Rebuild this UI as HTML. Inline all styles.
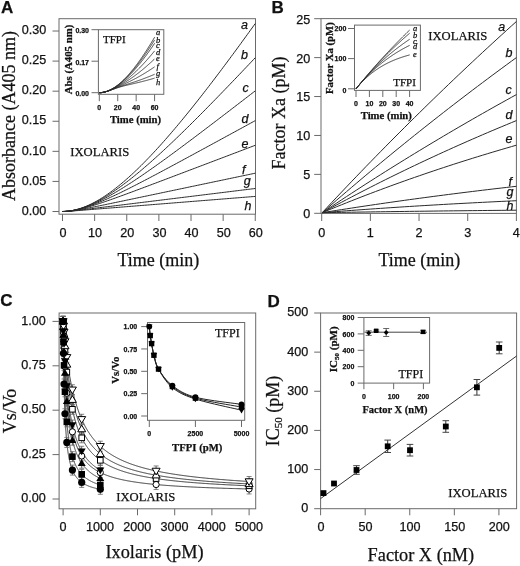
<!DOCTYPE html>
<html><head><meta charset="utf-8"><style>
html,body{margin:0;padding:0;background:#fff;}
svg{display:block;filter:grayscale(1);}
text{stroke:#111;stroke-width:0.25px;}
</style></head><body>
<svg width="520" height="566" viewBox="0 0 520 566" shape-rendering="auto">
<rect width="520" height="566" fill="#fff"/>
<text x="1.00" y="12.70" font-family='"Liberation Sans", sans-serif' font-size="17" text-anchor="start" font-weight="bold" font-style="normal" fill="#111">A</text>
<rect x="59.00" y="18.70" width="196.50" height="195.50" fill="none" stroke="#6a6a6a" stroke-width="1"/>
<line x1="52.50" y1="211.50" x2="59.00" y2="211.50" stroke="#6a6a6a" stroke-width="1"/>
<text x="46.30" y="214.70" font-family='"Liberation Sans", sans-serif' font-size="12.6" text-anchor="end" font-weight="normal" font-style="normal" fill="#111">0.00</text>
<line x1="52.50" y1="181.42" x2="59.00" y2="181.42" stroke="#6a6a6a" stroke-width="1"/>
<text x="46.30" y="184.62" font-family='"Liberation Sans", sans-serif' font-size="12.6" text-anchor="end" font-weight="normal" font-style="normal" fill="#111">0.05</text>
<line x1="52.50" y1="151.34" x2="59.00" y2="151.34" stroke="#6a6a6a" stroke-width="1"/>
<text x="46.30" y="154.54" font-family='"Liberation Sans", sans-serif' font-size="12.6" text-anchor="end" font-weight="normal" font-style="normal" fill="#111">0.10</text>
<line x1="52.50" y1="121.26" x2="59.00" y2="121.26" stroke="#6a6a6a" stroke-width="1"/>
<text x="46.30" y="124.46" font-family='"Liberation Sans", sans-serif' font-size="12.6" text-anchor="end" font-weight="normal" font-style="normal" fill="#111">0.15</text>
<line x1="52.50" y1="91.18" x2="59.00" y2="91.18" stroke="#6a6a6a" stroke-width="1"/>
<text x="46.30" y="94.38" font-family='"Liberation Sans", sans-serif' font-size="12.6" text-anchor="end" font-weight="normal" font-style="normal" fill="#111">0.20</text>
<line x1="52.50" y1="61.10" x2="59.00" y2="61.10" stroke="#6a6a6a" stroke-width="1"/>
<text x="46.30" y="64.30" font-family='"Liberation Sans", sans-serif' font-size="12.6" text-anchor="end" font-weight="normal" font-style="normal" fill="#111">0.25</text>
<line x1="52.50" y1="31.02" x2="59.00" y2="31.02" stroke="#6a6a6a" stroke-width="1"/>
<text x="46.30" y="34.22" font-family='"Liberation Sans", sans-serif' font-size="12.6" text-anchor="end" font-weight="normal" font-style="normal" fill="#111">0.30</text>
<line x1="62.50" y1="214.20" x2="62.50" y2="221.00" stroke="#6a6a6a" stroke-width="1"/>
<text x="63.00" y="236.80" font-family='"Liberation Sans", sans-serif' font-size="12.6" text-anchor="middle" font-weight="normal" font-style="normal" fill="#111">0</text>
<line x1="94.63" y1="214.20" x2="94.63" y2="221.00" stroke="#6a6a6a" stroke-width="1"/>
<text x="95.13" y="236.80" font-family='"Liberation Sans", sans-serif' font-size="12.6" text-anchor="middle" font-weight="normal" font-style="normal" fill="#111">10</text>
<line x1="126.76" y1="214.20" x2="126.76" y2="221.00" stroke="#6a6a6a" stroke-width="1"/>
<text x="127.26" y="236.80" font-family='"Liberation Sans", sans-serif' font-size="12.6" text-anchor="middle" font-weight="normal" font-style="normal" fill="#111">20</text>
<line x1="158.89" y1="214.20" x2="158.89" y2="221.00" stroke="#6a6a6a" stroke-width="1"/>
<text x="159.39" y="236.80" font-family='"Liberation Sans", sans-serif' font-size="12.6" text-anchor="middle" font-weight="normal" font-style="normal" fill="#111">30</text>
<line x1="191.02" y1="214.20" x2="191.02" y2="221.00" stroke="#6a6a6a" stroke-width="1"/>
<text x="191.52" y="236.80" font-family='"Liberation Sans", sans-serif' font-size="12.6" text-anchor="middle" font-weight="normal" font-style="normal" fill="#111">40</text>
<line x1="223.15" y1="214.20" x2="223.15" y2="221.00" stroke="#6a6a6a" stroke-width="1"/>
<text x="223.65" y="236.80" font-family='"Liberation Sans", sans-serif' font-size="12.6" text-anchor="middle" font-weight="normal" font-style="normal" fill="#111">50</text>
<line x1="255.28" y1="214.20" x2="255.28" y2="221.00" stroke="#6a6a6a" stroke-width="1"/>
<text x="255.78" y="236.80" font-family='"Liberation Sans", sans-serif' font-size="12.6" text-anchor="middle" font-weight="normal" font-style="normal" fill="#111">60</text>
<text x="158.30" y="266.00" font-family='"Liberation Serif", serif' font-size="18" text-anchor="middle" font-weight="normal" font-style="normal" fill="#111">Time (min)</text>
<text x="14.80" y="116.00" font-family='"Liberation Serif", serif' font-size="18" text-anchor="middle" font-weight="normal" font-style="normal" fill="#111" transform="rotate(-90 14.80 116.00)">Absorbance (A405 nm)</text>
<text x="70.20" y="156.20" font-family='"Liberation Serif", serif' font-size="12.65" text-anchor="start" font-weight="normal" font-style="normal" fill="#111">IXOLARIS</text>
<polyline points="62.50,211.50 64.11,211.47 65.71,211.39 67.32,211.26 68.93,211.08 70.53,210.86 72.14,210.58 73.75,210.26 75.35,209.89 76.96,209.47 78.56,209.01 80.17,208.51 81.78,207.97 83.38,207.39 84.99,206.76 86.60,206.10 88.20,205.40 89.81,204.66 91.42,203.89 93.02,203.07 94.63,202.23 96.24,201.35 97.84,200.43 99.45,199.49 101.06,198.51 102.66,197.50 104.27,196.46 105.88,195.39 107.48,194.29 109.09,193.16 110.70,192.00 112.30,190.81 113.91,189.60 115.51,188.37 117.12,187.10 118.73,185.81 120.33,184.50 121.94,183.16 123.55,181.80 125.15,180.42 126.76,179.01 128.37,177.59 129.97,176.14 131.58,174.67 133.19,173.17 134.79,171.66 136.40,170.13 138.01,168.58 139.61,167.01 141.22,165.43 142.83,163.82 144.43,162.20 146.04,160.56 147.64,158.90 149.25,157.23 150.86,155.54 152.46,153.83 154.07,152.11 155.68,150.38 157.28,148.62 158.89,146.86 160.50,145.08 162.10,143.29 163.71,141.48 165.32,139.66 166.92,137.83 168.53,135.98 170.14,134.13 171.74,132.26 173.35,130.38 174.96,128.48 176.56,126.58 178.17,124.66 179.77,122.74 181.38,120.80 182.99,118.86 184.59,116.90 186.20,114.93 187.81,112.95 189.41,110.97 191.02,108.97 192.63,106.97 194.23,104.96 195.84,102.94 197.45,100.90 199.05,98.87 200.66,96.82 202.27,94.77 203.87,92.70 205.48,90.63 207.09,88.56 208.69,86.47 210.30,84.38 211.90,82.28 213.51,80.18 215.12,78.07 216.72,75.95 218.33,73.82 219.94,71.69 221.54,69.56 223.15,67.41 224.76,65.26 226.36,63.11 227.97,60.95 229.58,58.79 231.18,56.62 232.79,54.44 234.40,52.26 236.00,50.07 237.61,47.88 239.22,45.69 240.82,43.49 242.43,41.28 244.03,39.07 245.64,36.86 247.25,34.64 248.85,32.42 250.46,30.20 252.07,27.97 253.67,25.73 255.28,23.50" fill="none" stroke="#2a2a2a" stroke-width="1" stroke-linejoin="round"/>
<polyline points="62.50,211.50 64.11,211.47 65.71,211.40 67.32,211.27 68.93,211.09 70.53,210.86 72.14,210.59 73.75,210.28 75.35,209.92 76.96,209.52 78.56,209.08 80.17,208.60 81.78,208.08 83.38,207.53 84.99,206.94 86.60,206.31 88.20,205.65 89.81,204.96 91.42,204.23 93.02,203.48 94.63,202.69 96.24,201.88 97.84,201.04 99.45,200.17 101.06,199.27 102.66,198.35 104.27,197.41 105.88,196.44 107.48,195.44 109.09,194.43 110.70,193.39 112.30,192.33 113.91,191.25 115.51,190.15 117.12,189.03 118.73,187.89 120.33,186.74 121.94,185.56 123.55,184.37 125.15,183.16 126.76,181.94 128.37,180.70 129.97,179.44 131.58,178.17 133.19,176.89 134.79,175.59 136.40,174.28 138.01,172.95 139.61,171.62 141.22,170.27 142.83,168.91 144.43,167.53 146.04,166.15 147.64,164.75 149.25,163.35 150.86,161.93 152.46,160.51 154.07,159.07 155.68,157.63 157.28,156.17 158.89,154.71 160.50,153.24 162.10,151.76 163.71,150.28 165.32,148.78 166.92,147.28 168.53,145.77 170.14,144.25 171.74,142.73 173.35,141.20 174.96,139.66 176.56,138.12 178.17,136.57 179.77,135.02 181.38,133.46 182.99,131.89 184.59,130.32 186.20,128.74 187.81,127.16 189.41,125.57 191.02,123.98 192.63,122.39 194.23,120.79 195.84,119.18 197.45,117.57 199.05,115.96 200.66,114.34 202.27,112.72 203.87,111.10 205.48,109.47 207.09,107.84 208.69,106.21 210.30,104.57 211.90,102.93 213.51,101.28 215.12,99.63 216.72,97.98 218.33,96.33 219.94,94.68 221.54,93.02 223.15,91.36 224.76,89.69 226.36,88.03 227.97,86.36 229.58,84.69 231.18,83.02 232.79,81.34 234.40,79.66 236.00,77.99 237.61,76.30 239.22,74.62 240.82,72.94 242.43,71.25 244.03,69.56 245.64,67.87 247.25,66.18 248.85,64.49 250.46,62.80 252.07,61.10 253.67,59.40 255.28,57.70" fill="none" stroke="#2a2a2a" stroke-width="1" stroke-linejoin="round"/>
<polyline points="62.50,211.50 64.11,211.47 65.71,211.40 67.32,211.27 68.93,211.10 70.53,210.88 72.14,210.62 73.75,210.31 75.35,209.97 76.96,209.59 78.56,209.17 80.17,208.72 81.78,208.23 83.38,207.72 84.99,207.17 86.60,206.59 88.20,205.99 89.81,205.35 91.42,204.70 93.02,204.01 94.63,203.31 96.24,202.58 97.84,201.83 99.45,201.06 101.06,200.26 102.66,199.45 104.27,198.62 105.88,197.78 107.48,196.91 109.09,196.04 110.70,195.14 112.30,194.23 113.91,193.31 115.51,192.37 117.12,191.42 118.73,190.46 120.33,189.48 121.94,188.50 123.55,187.50 125.15,186.49 126.76,185.48 128.37,184.45 129.97,183.41 131.58,182.37 133.19,181.32 134.79,180.25 136.40,179.18 138.01,178.11 139.61,177.02 141.22,175.93 142.83,174.84 144.43,173.73 146.04,172.62 147.64,171.51 149.25,170.39 150.86,169.26 152.46,168.13 154.07,167.00 155.68,165.86 157.28,164.71 158.89,163.56 160.50,162.41 162.10,161.25 163.71,160.09 165.32,158.93 166.92,157.76 168.53,156.59 170.14,155.41 171.74,154.24 173.35,153.06 174.96,151.87 176.56,150.69 178.17,149.50 179.77,148.31 181.38,147.12 182.99,145.92 184.59,144.72 186.20,143.53 187.81,142.32 189.41,141.12 191.02,139.92 192.63,138.71 194.23,137.50 195.84,136.29 197.45,135.08 199.05,133.87 200.66,132.65 202.27,131.44 203.87,130.22 205.48,129.00 207.09,127.78 208.69,126.56 210.30,125.34 211.90,124.12 213.51,122.90 215.12,121.67 216.72,120.45 218.33,119.22 219.94,117.99 221.54,116.76 223.15,115.54 224.76,114.31 226.36,113.08 227.97,111.85 229.58,110.61 231.18,109.38 232.79,108.15 234.40,106.92 236.00,105.68 237.61,104.45 239.22,103.21 240.82,101.98 242.43,100.74 244.03,99.51 245.64,98.27 247.25,97.03 248.85,95.80 250.46,94.56 252.07,93.32 253.67,92.08 255.28,90.85" fill="none" stroke="#2a2a2a" stroke-width="1" stroke-linejoin="round"/>
<polyline points="62.50,211.50 64.11,211.47 65.71,211.40 67.32,211.27 68.93,211.10 70.53,210.89 72.14,210.64 73.75,210.36 75.35,210.04 76.96,209.68 78.56,209.30 80.17,208.88 81.78,208.44 83.38,207.97 84.99,207.48 86.60,206.97 88.20,206.43 89.81,205.87 91.42,205.30 93.02,204.70 94.63,204.09 96.24,203.47 97.84,202.83 99.45,202.17 101.06,201.51 102.66,200.83 104.27,200.13 105.88,199.43 107.48,198.72 109.09,198.00 110.70,197.26 112.30,196.52 113.91,195.78 115.51,195.02 117.12,194.26 118.73,193.49 120.33,192.71 121.94,191.93 123.55,191.14 125.15,190.35 126.76,189.55 128.37,188.75 129.97,187.94 131.58,187.13 133.19,186.31 134.79,185.49 136.40,184.67 138.01,183.84 139.61,183.02 141.22,182.18 142.83,181.35 144.43,180.51 146.04,179.68 147.64,178.83 149.25,177.99 150.86,177.15 152.46,176.30 154.07,175.45 155.68,174.60 157.28,173.75 158.89,172.89 160.50,172.04 162.10,171.18 163.71,170.32 165.32,169.46 166.92,168.60 168.53,167.74 170.14,166.88 171.74,166.02 173.35,165.16 174.96,164.29 176.56,163.43 178.17,162.56 179.77,161.69 181.38,160.83 182.99,159.96 184.59,159.09 186.20,158.22 187.81,157.35 189.41,156.48 191.02,155.61 192.63,154.74 194.23,153.87 195.84,153.00 197.45,152.13 199.05,151.26 200.66,150.38 202.27,149.51 203.87,148.64 205.48,147.77 207.09,146.89 208.69,146.02 210.30,145.15 211.90,144.27 213.51,143.40 215.12,142.52 216.72,141.65 218.33,140.78 219.94,139.90 221.54,139.03 223.15,138.15 224.76,137.28 226.36,136.40 227.97,135.52 229.58,134.65 231.18,133.77 232.79,132.90 234.40,132.02 236.00,131.15 237.61,130.27 239.22,129.40 240.82,128.52 242.43,127.64 244.03,126.77 245.64,125.89 247.25,125.01 248.85,124.14 250.46,123.26 252.07,122.39 253.67,121.51 255.28,120.63" fill="none" stroke="#2a2a2a" stroke-width="1" stroke-linejoin="round"/>
<polyline points="62.50,211.50 64.11,211.47 65.71,211.40 67.32,211.28 68.93,211.12 70.53,210.92 72.14,210.69 73.75,210.42 75.35,210.13 76.96,209.81 78.56,209.46 80.17,209.10 81.78,208.71 83.38,208.30 84.99,207.88 86.60,207.44 88.20,206.99 89.81,206.52 91.42,206.04 93.02,205.55 94.63,205.05 96.24,204.55 97.84,204.03 99.45,203.50 101.06,202.97 102.66,202.43 104.27,201.89 105.88,201.34 107.48,200.78 109.09,200.22 110.70,199.66 112.30,199.09 113.91,198.52 115.51,197.95 117.12,197.37 118.73,196.79 120.33,196.21 121.94,195.62 123.55,195.04 125.15,194.45 126.76,193.86 128.37,193.26 129.97,192.67 131.58,192.08 133.19,191.48 134.79,190.88 136.40,190.28 138.01,189.68 139.61,189.08 141.22,188.48 142.83,187.88 144.43,187.28 146.04,186.68 147.64,186.07 149.25,185.47 150.86,184.86 152.46,184.26 154.07,183.65 155.68,183.05 157.28,182.44 158.89,181.84 160.50,181.23 162.10,180.62 163.71,180.02 165.32,179.41 166.92,178.80 168.53,178.19 170.14,177.59 171.74,176.98 173.35,176.37 174.96,175.76 176.56,175.15 178.17,174.54 179.77,173.94 181.38,173.33 182.99,172.72 184.59,172.11 186.20,171.50 187.81,170.89 189.41,170.28 191.02,169.67 192.63,169.06 194.23,168.46 195.84,167.85 197.45,167.24 199.05,166.63 200.66,166.02 202.27,165.41 203.87,164.80 205.48,164.19 207.09,163.58 208.69,162.97 210.30,162.36 211.90,161.75 213.51,161.14 215.12,160.53 216.72,159.92 218.33,159.32 219.94,158.71 221.54,158.10 223.15,157.49 224.76,156.88 226.36,156.27 227.97,155.66 229.58,155.05 231.18,154.44 232.79,153.83 234.40,153.22 236.00,152.61 237.61,152.00 239.22,151.39 240.82,150.78 242.43,150.17 244.03,149.56 245.64,148.95 247.25,148.34 248.85,147.73 250.46,147.12 252.07,146.51 253.67,145.90 255.28,145.29" fill="none" stroke="#2a2a2a" stroke-width="1" stroke-linejoin="round"/>
<polyline points="62.50,211.50 64.11,211.47 65.71,211.40 67.32,211.29 68.93,211.15 70.53,210.98 72.14,210.78 73.75,210.57 75.35,210.33 76.96,210.08 78.56,209.82 80.17,209.55 81.78,209.26 83.38,208.97 84.99,208.68 86.60,208.37 88.20,208.06 89.81,207.75 91.42,207.44 93.02,207.12 94.63,206.80 96.24,206.47 97.84,206.15 99.45,205.82 101.06,205.49 102.66,205.16 104.27,204.83 105.88,204.50 107.48,204.16 109.09,203.83 110.70,203.50 112.30,203.16 113.91,202.83 115.51,202.49 117.12,202.16 118.73,201.82 120.33,201.49 121.94,201.15 123.55,200.82 125.15,200.48 126.76,200.14 128.37,199.81 129.97,199.47 131.58,199.13 133.19,198.80 134.79,198.46 136.40,198.12 138.01,197.79 139.61,197.45 141.22,197.11 142.83,196.78 144.43,196.44 146.04,196.10 147.64,195.77 149.25,195.43 150.86,195.09 152.46,194.76 154.07,194.42 155.68,194.08 157.28,193.75 158.89,193.41 160.50,193.07 162.10,192.73 163.71,192.40 165.32,192.06 166.92,191.72 168.53,191.39 170.14,191.05 171.74,190.71 173.35,190.38 174.96,190.04 176.56,189.70 178.17,189.37 179.77,189.03 181.38,188.69 182.99,188.36 184.59,188.02 186.20,187.68 187.81,187.34 189.41,187.01 191.02,186.67 192.63,186.33 194.23,186.00 195.84,185.66 197.45,185.32 199.05,184.99 200.66,184.65 202.27,184.31 203.87,183.98 205.48,183.64 207.09,183.30 208.69,182.96 210.30,182.63 211.90,182.29 213.51,181.95 215.12,181.62 216.72,181.28 218.33,180.94 219.94,180.61 221.54,180.27 223.15,179.93 224.76,179.60 226.36,179.26 227.97,178.92 229.58,178.59 231.18,178.25 232.79,177.91 234.40,177.57 236.00,177.24 237.61,176.90 239.22,176.56 240.82,176.23 242.43,175.89 244.03,175.55 245.64,175.22 247.25,174.88 248.85,174.54 250.46,174.21 252.07,173.87 253.67,173.53 255.28,173.19" fill="none" stroke="#2a2a2a" stroke-width="1" stroke-linejoin="round"/>
<polyline points="62.50,211.50 64.11,211.48 65.71,211.41 67.32,211.31 68.93,211.19 70.53,211.05 72.14,210.90 73.75,210.74 75.35,210.56 76.96,210.39 78.56,210.20 80.17,210.02 81.78,209.83 83.38,209.64 84.99,209.45 86.60,209.25 88.20,209.06 89.81,208.86 91.42,208.66 93.02,208.47 94.63,208.27 96.24,208.07 97.84,207.88 99.45,207.68 101.06,207.48 102.66,207.28 104.27,207.09 105.88,206.89 107.48,206.69 109.09,206.49 110.70,206.30 112.30,206.10 113.91,205.90 115.51,205.70 117.12,205.50 118.73,205.31 120.33,205.11 121.94,204.91 123.55,204.71 125.15,204.52 126.76,204.32 128.37,204.12 129.97,203.92 131.58,203.72 133.19,203.53 134.79,203.33 136.40,203.13 138.01,202.93 139.61,202.73 141.22,202.54 142.83,202.34 144.43,202.14 146.04,201.94 147.64,201.75 149.25,201.55 150.86,201.35 152.46,201.15 154.07,200.95 155.68,200.76 157.28,200.56 158.89,200.36 160.50,200.16 162.10,199.96 163.71,199.77 165.32,199.57 166.92,199.37 168.53,199.17 170.14,198.98 171.74,198.78 173.35,198.58 174.96,198.38 176.56,198.18 178.17,197.99 179.77,197.79 181.38,197.59 182.99,197.39 184.59,197.19 186.20,197.00 187.81,196.80 189.41,196.60 191.02,196.40 192.63,196.21 194.23,196.01 195.84,195.81 197.45,195.61 199.05,195.41 200.66,195.22 202.27,195.02 203.87,194.82 205.48,194.62 207.09,194.42 208.69,194.23 210.30,194.03 211.90,193.83 213.51,193.63 215.12,193.44 216.72,193.24 218.33,193.04 219.94,192.84 221.54,192.64 223.15,192.45 224.76,192.25 226.36,192.05 227.97,191.85 229.58,191.65 231.18,191.46 232.79,191.26 234.40,191.06 236.00,190.86 237.61,190.67 239.22,190.47 240.82,190.27 242.43,190.07 244.03,189.87 245.64,189.68 247.25,189.48 248.85,189.28 250.46,189.08 252.07,188.88 253.67,188.69 255.28,188.49" fill="none" stroke="#2a2a2a" stroke-width="1" stroke-linejoin="round"/>
<polyline points="62.50,211.50 64.11,211.48 65.71,211.42 67.32,211.33 68.93,211.24 70.53,211.13 72.14,211.01 73.75,210.89 75.35,210.77 76.96,210.65 78.56,210.52 80.17,210.39 81.78,210.27 83.38,210.14 84.99,210.01 86.60,209.88 88.20,209.75 89.81,209.63 91.42,209.50 93.02,209.37 94.63,209.24 96.24,209.11 97.84,208.98 99.45,208.86 101.06,208.73 102.66,208.60 104.27,208.47 105.88,208.34 107.48,208.21 109.09,208.09 110.70,207.96 112.30,207.83 113.91,207.70 115.51,207.57 117.12,207.44 118.73,207.32 120.33,207.19 121.94,207.06 123.55,206.93 125.15,206.80 126.76,206.67 128.37,206.55 129.97,206.42 131.58,206.29 133.19,206.16 134.79,206.03 136.40,205.90 138.01,205.78 139.61,205.65 141.22,205.52 142.83,205.39 144.43,205.26 146.04,205.13 147.64,205.01 149.25,204.88 150.86,204.75 152.46,204.62 154.07,204.49 155.68,204.36 157.28,204.24 158.89,204.11 160.50,203.98 162.10,203.85 163.71,203.72 165.32,203.59 166.92,203.47 168.53,203.34 170.14,203.21 171.74,203.08 173.35,202.95 174.96,202.82 176.56,202.70 178.17,202.57 179.77,202.44 181.38,202.31 182.99,202.18 184.59,202.05 186.20,201.93 187.81,201.80 189.41,201.67 191.02,201.54 192.63,201.41 194.23,201.28 195.84,201.16 197.45,201.03 199.05,200.90 200.66,200.77 202.27,200.64 203.87,200.51 205.48,200.39 207.09,200.26 208.69,200.13 210.30,200.00 211.90,199.87 213.51,199.74 215.12,199.62 216.72,199.49 218.33,199.36 219.94,199.23 221.54,199.10 223.15,198.97 224.76,198.85 226.36,198.72 227.97,198.59 229.58,198.46 231.18,198.33 232.79,198.20 234.40,198.08 236.00,197.95 237.61,197.82 239.22,197.69 240.82,197.56 242.43,197.43 244.03,197.31 245.64,197.18 247.25,197.05 248.85,196.92 250.46,196.79 252.07,196.66 253.67,196.54 255.28,196.41" fill="none" stroke="#2a2a2a" stroke-width="1" stroke-linejoin="round"/>
<text x="241.00" y="29.10" font-family='"Liberation Sans", sans-serif' font-size="12.5" text-anchor="start" font-weight="normal" font-style="italic" fill="#111">a</text>
<text x="241.00" y="59.10" font-family='"Liberation Sans", sans-serif' font-size="12.5" text-anchor="start" font-weight="normal" font-style="italic" fill="#111">b</text>
<text x="242.50" y="92.30" font-family='"Liberation Sans", sans-serif' font-size="12.5" text-anchor="start" font-weight="normal" font-style="italic" fill="#111">c</text>
<text x="241.50" y="122.60" font-family='"Liberation Sans", sans-serif' font-size="12.5" text-anchor="start" font-weight="normal" font-style="italic" fill="#111">d</text>
<text x="241.50" y="147.90" font-family='"Liberation Sans", sans-serif' font-size="12.5" text-anchor="start" font-weight="normal" font-style="italic" fill="#111">e</text>
<text x="242.00" y="174.10" font-family='"Liberation Sans", sans-serif' font-size="12.5" text-anchor="start" font-weight="normal" font-style="italic" fill="#111">f</text>
<text x="243.80" y="185.20" font-family='"Liberation Sans", sans-serif' font-size="12.5" text-anchor="start" font-weight="normal" font-style="italic" fill="#111">g</text>
<text x="244.50" y="209.60" font-family='"Liberation Sans", sans-serif' font-size="12.5" text-anchor="start" font-weight="normal" font-style="italic" fill="#111">h</text>
<rect x="98.40" y="29.70" width="65.40" height="64.60" fill="none" stroke="#6a6a6a" stroke-width="1"/>
<line x1="91.50" y1="92.70" x2="98.40" y2="92.70" stroke="#6a6a6a" stroke-width="1"/>
<text x="89.00" y="96.30" font-family='"Liberation Sans", sans-serif' font-size="7" text-anchor="end" font-weight="bold" font-style="normal" fill="#111">0.00</text>
<line x1="91.50" y1="61.20" x2="98.40" y2="61.20" stroke="#6a6a6a" stroke-width="1"/>
<text x="89.00" y="64.80" font-family='"Liberation Sans", sans-serif' font-size="7" text-anchor="end" font-weight="bold" font-style="normal" fill="#111">0.17</text>
<line x1="91.50" y1="29.70" x2="98.40" y2="29.70" stroke="#6a6a6a" stroke-width="1"/>
<text x="89.00" y="33.30" font-family='"Liberation Sans", sans-serif' font-size="7" text-anchor="end" font-weight="bold" font-style="normal" fill="#111">0.30</text>
<line x1="99.30" y1="94.30" x2="99.30" y2="101.20" stroke="#6a6a6a" stroke-width="1"/>
<text x="99.30" y="109.90" font-family='"Liberation Sans", sans-serif' font-size="7" text-anchor="middle" font-weight="bold" font-style="normal" fill="#111">0</text>
<line x1="117.73" y1="94.30" x2="117.73" y2="101.20" stroke="#6a6a6a" stroke-width="1"/>
<text x="117.73" y="109.90" font-family='"Liberation Sans", sans-serif' font-size="7" text-anchor="middle" font-weight="bold" font-style="normal" fill="#111">20</text>
<line x1="136.16" y1="94.30" x2="136.16" y2="101.20" stroke="#6a6a6a" stroke-width="1"/>
<text x="136.16" y="109.90" font-family='"Liberation Sans", sans-serif' font-size="7" text-anchor="middle" font-weight="bold" font-style="normal" fill="#111">40</text>
<line x1="154.59" y1="94.30" x2="154.59" y2="101.20" stroke="#6a6a6a" stroke-width="1"/>
<text x="154.59" y="109.90" font-family='"Liberation Sans", sans-serif' font-size="7" text-anchor="middle" font-weight="bold" font-style="normal" fill="#111">60</text>
<text x="135.50" y="123.20" font-family='"Liberation Serif", serif' font-size="10.7" text-anchor="middle" font-weight="bold" font-style="normal" fill="#111">Time (min)</text>
<text x="72.20" y="59.50" font-family='"Liberation Serif", serif' font-size="10.8" text-anchor="middle" font-weight="bold" font-style="normal" fill="#111" transform="rotate(-90 72.20 59.50)">Abs (A405 nm)</text>
<text x="103.00" y="42.70" font-family='"Liberation Serif", serif' font-size="11" text-anchor="start" font-weight="normal" font-style="normal" fill="#111">TFPI</text>
<polyline points="99.30,92.70 99.76,92.69 100.22,92.68 100.68,92.65 101.14,92.62 101.60,92.57 102.06,92.51 102.53,92.44 102.99,92.37 103.45,92.28 103.91,92.18 104.37,92.07 104.83,91.96 105.29,91.83 105.75,91.69 106.21,91.55 106.67,91.39 107.13,91.23 107.59,91.05 108.05,90.87 108.52,90.68 108.98,90.48 109.44,90.27 109.90,90.05 110.36,89.82 110.82,89.59 111.28,89.34 111.74,89.09 112.20,88.83 112.66,88.56 113.12,88.28 113.58,88.00 114.04,87.70 114.50,87.40 114.97,87.09 115.43,86.78 115.89,86.45 116.35,86.12 116.81,85.78 117.27,85.43 117.73,85.07 118.19,84.71 118.65,84.34 119.11,83.96 119.57,83.57 120.03,83.18 120.49,82.78 120.96,82.37 121.42,81.96 121.88,81.54 122.34,81.11 122.80,80.67 123.26,80.23 123.72,79.79 124.18,79.33 124.64,78.87 125.10,78.40 125.56,77.93 126.02,77.45 126.48,76.96 126.94,76.47 127.41,75.97 127.87,75.46 128.33,74.95 128.79,74.43 129.25,73.91 129.71,73.38 130.17,72.84 130.63,72.30 131.09,71.75 131.55,71.20 132.01,70.64 132.47,70.08 132.93,69.51 133.40,68.93 133.86,68.35 134.32,67.76 134.78,67.17 135.24,66.57 135.70,65.97 136.16,65.36 136.62,64.75 137.08,64.13 137.54,63.51 138.00,62.88 138.46,62.25 138.92,61.61 139.39,60.97 139.85,60.32 140.31,59.67 140.77,59.01 141.23,58.35 141.69,57.68 142.15,57.01 142.61,56.33 143.07,55.65 143.53,54.96 143.99,54.28 144.45,53.58 144.91,52.88 145.38,52.18 145.84,51.47 146.30,50.76 146.76,50.04 147.22,49.32 147.68,48.60 148.14,47.87 148.60,47.14 149.06,46.40 149.52,45.66 149.98,44.92 150.44,44.17 150.90,43.42 151.36,42.66 151.83,41.90 152.29,41.14 152.75,40.37 153.21,39.60 153.67,38.82 154.13,38.04 154.59,37.26" fill="none" stroke="#2a2a2a" stroke-width="0.9" stroke-linejoin="round"/>
<polyline points="99.30,92.70 99.76,92.69 100.22,92.68 100.68,92.65 101.14,92.62 101.60,92.57 102.06,92.51 102.53,92.44 102.99,92.37 103.45,92.28 103.91,92.18 104.37,92.07 104.83,91.96 105.29,91.83 105.75,91.70 106.21,91.55 106.67,91.40 107.13,91.24 107.59,91.06 108.05,90.88 108.52,90.70 108.98,90.50 109.44,90.29 109.90,90.08 110.36,89.85 110.82,89.62 111.28,89.39 111.74,89.14 112.20,88.88 112.66,88.62 113.12,88.35 113.58,88.07 114.04,87.79 114.50,87.50 114.97,87.20 115.43,86.89 115.89,86.57 116.35,86.25 116.81,85.92 117.27,85.59 117.73,85.25 118.19,84.90 118.65,84.54 119.11,84.18 119.57,83.81 120.03,83.43 120.49,83.05 120.96,82.66 121.42,82.27 121.88,81.87 122.34,81.46 122.80,81.04 123.26,80.62 123.72,80.20 124.18,79.77 124.64,79.33 125.10,78.88 125.56,78.43 126.02,77.98 126.48,77.51 126.94,77.05 127.41,76.57 127.87,76.09 128.33,75.61 128.79,75.12 129.25,74.62 129.71,74.12 130.17,73.61 130.63,73.10 131.09,72.58 131.55,72.06 132.01,71.53 132.47,71.00 132.93,70.46 133.40,69.91 133.86,69.36 134.32,68.81 134.78,68.25 135.24,67.69 135.70,67.12 136.16,66.54 136.62,65.96 137.08,65.38 137.54,64.79 138.00,64.20 138.46,63.60 138.92,62.99 139.39,62.39 139.85,61.77 140.31,61.16 140.77,60.54 141.23,59.91 141.69,59.28 142.15,58.65 142.61,58.01 143.07,57.36 143.53,56.72 143.99,56.06 144.45,55.41 144.91,54.75 145.38,54.08 145.84,53.42 146.30,52.74 146.76,52.07 147.22,51.39 147.68,50.70 148.14,50.01 148.60,49.32 149.06,48.63 149.52,47.93 149.98,47.22 150.44,46.52 150.90,45.81 151.36,45.09 151.83,44.37 152.29,43.65 152.75,42.93 153.21,42.20 153.67,41.47 154.13,40.73 154.59,39.99" fill="none" stroke="#2a2a2a" stroke-width="0.9" stroke-linejoin="round"/>
<polyline points="99.30,92.70 99.76,92.69 100.22,92.68 100.68,92.65 101.14,92.62 101.60,92.57 102.06,92.51 102.53,92.44 102.99,92.37 103.45,92.28 103.91,92.18 104.37,92.08 104.83,91.96 105.29,91.84 105.75,91.70 106.21,91.56 106.67,91.41 107.13,91.25 107.59,91.08 108.05,90.90 108.52,90.71 108.98,90.52 109.44,90.32 109.90,90.11 110.36,89.89 110.82,89.67 111.28,89.44 111.74,89.20 112.20,88.95 112.66,88.69 113.12,88.43 113.58,88.17 114.04,87.89 114.50,87.61 114.97,87.32 115.43,87.03 115.89,86.73 116.35,86.42 116.81,86.11 117.27,85.79 117.73,85.46 118.19,85.13 118.65,84.79 119.11,84.45 119.57,84.10 120.03,83.75 120.49,83.39 120.96,83.02 121.42,82.65 121.88,82.27 122.34,81.89 122.80,81.50 123.26,81.11 123.72,80.71 124.18,80.30 124.64,79.89 125.10,79.48 125.56,79.05 126.02,78.63 126.48,78.20 126.94,77.76 127.41,77.32 127.87,76.87 128.33,76.42 128.79,75.96 129.25,75.50 129.71,75.03 130.17,74.56 130.63,74.09 131.09,73.60 131.55,73.12 132.01,72.63 132.47,72.13 132.93,71.63 133.40,71.12 133.86,70.61 134.32,70.10 134.78,69.58 135.24,69.05 135.70,68.53 136.16,67.99 136.62,67.45 137.08,66.91 137.54,66.37 138.00,65.81 138.46,65.26 138.92,64.70 139.39,64.13 139.85,63.57 140.31,62.99 140.77,62.42 141.23,61.84 141.69,61.25 142.15,60.66 142.61,60.07 143.07,59.47 143.53,58.87 143.99,58.27 144.45,57.66 144.91,57.05 145.38,56.43 145.84,55.81 146.30,55.19 146.76,54.56 147.22,53.93 147.68,53.29 148.14,52.65 148.60,52.01 149.06,51.37 149.52,50.72 149.98,50.06 150.44,49.41 150.90,48.75 151.36,48.08 151.83,47.42 152.29,46.75 152.75,46.07 153.21,45.40 153.67,44.72 154.13,44.04 154.59,43.35" fill="none" stroke="#2a2a2a" stroke-width="0.9" stroke-linejoin="round"/>
<polyline points="99.30,92.70 99.76,92.69 100.22,92.68 100.68,92.65 101.14,92.62 101.60,92.57 102.06,92.51 102.53,92.44 102.99,92.37 103.45,92.28 103.91,92.19 104.37,92.08 104.83,91.97 105.29,91.84 105.75,91.71 106.21,91.57 106.67,91.43 107.13,91.27 107.59,91.11 108.05,90.94 108.52,90.76 108.98,90.57 109.44,90.38 109.90,90.18 110.36,89.98 110.82,89.76 111.28,89.55 111.74,89.32 112.20,89.09 112.66,88.86 113.12,88.62 113.58,88.37 114.04,88.12 114.50,87.87 114.97,87.61 115.43,87.34 115.89,87.07 116.35,86.80 116.81,86.52 117.27,86.24 117.73,85.95 118.19,85.66 118.65,85.36 119.11,85.06 119.57,84.76 120.03,84.45 120.49,84.14 120.96,83.83 121.42,83.51 121.88,83.18 122.34,82.85 122.80,82.52 123.26,82.19 123.72,81.85 124.18,81.51 124.64,81.16 125.10,80.81 125.56,80.45 126.02,80.10 126.48,79.73 126.94,79.37 127.41,79.00 127.87,78.63 128.33,78.25 128.79,77.87 129.25,77.48 129.71,77.09 130.17,76.70 130.63,76.30 131.09,75.90 131.55,75.50 132.01,75.09 132.47,74.68 132.93,74.27 133.40,73.85 133.86,73.42 134.32,73.00 134.78,72.57 135.24,72.13 135.70,71.70 136.16,71.26 136.62,70.81 137.08,70.36 137.54,69.91 138.00,69.46 138.46,69.00 138.92,68.53 139.39,68.07 139.85,67.60 140.31,67.13 140.77,66.65 141.23,66.17 141.69,65.69 142.15,65.20 142.61,64.71 143.07,64.22 143.53,63.72 143.99,63.22 144.45,62.72 144.91,62.22 145.38,61.71 145.84,61.19 146.30,60.68 146.76,60.16 147.22,59.64 147.68,59.12 148.14,58.59 148.60,58.06 149.06,57.53 149.52,56.99 149.98,56.45 150.44,55.91 150.90,55.36 151.36,54.82 151.83,54.27 152.29,53.71 152.75,53.16 153.21,52.60 153.67,52.04 154.13,51.48 154.59,50.91" fill="none" stroke="#2a2a2a" stroke-width="0.9" stroke-linejoin="round"/>
<polyline points="99.30,92.70 99.76,92.69 100.22,92.68 100.68,92.65 101.14,92.62 101.60,92.57 102.06,92.51 102.53,92.44 102.99,92.37 103.45,92.28 103.91,92.19 104.37,92.08 104.83,91.97 105.29,91.85 105.75,91.72 106.21,91.59 106.67,91.44 107.13,91.29 107.59,91.14 108.05,90.97 108.52,90.80 108.98,90.63 109.44,90.44 109.90,90.26 110.36,90.06 110.82,89.87 111.28,89.67 111.74,89.46 112.20,89.25 112.66,89.03 113.12,88.82 113.58,88.59 114.04,88.37 114.50,88.14 114.97,87.91 115.43,87.68 115.89,87.44 116.35,87.20 116.81,86.96 117.27,86.71 117.73,86.47 118.19,86.22 118.65,85.97 119.11,85.71 119.57,85.46 120.03,85.20 120.49,84.94 120.96,84.68 121.42,84.41 121.88,84.14 122.34,83.88 122.80,83.60 123.26,83.33 123.72,83.06 124.18,82.78 124.64,82.50 125.10,82.22 125.56,81.93 126.02,81.65 126.48,81.36 126.94,81.07 127.41,80.77 127.87,80.48 128.33,80.18 128.79,79.88 129.25,79.57 129.71,79.27 130.17,78.96 130.63,78.65 131.09,78.33 131.55,78.01 132.01,77.70 132.47,77.37 132.93,77.05 133.40,76.72 133.86,76.39 134.32,76.06 134.78,75.72 135.24,75.38 135.70,75.04 136.16,74.70 136.62,74.35 137.08,74.01 137.54,73.65 138.00,73.30 138.46,72.94 138.92,72.58 139.39,72.22 139.85,71.86 140.31,71.49 140.77,71.12 141.23,70.74 141.69,70.37 142.15,69.99 142.61,69.61 143.07,69.23 143.53,68.84 143.99,68.45 144.45,68.06 144.91,67.67 145.38,67.28 145.84,66.88 146.30,66.48 146.76,66.08 147.22,65.67 147.68,65.26 148.14,64.85 148.60,64.44 149.06,64.03 149.52,63.61 149.98,63.19 150.44,62.77 150.90,62.35 151.36,61.93 151.83,61.50 152.29,61.07 152.75,60.64 153.21,60.20 153.67,59.77 154.13,59.33 154.59,58.89" fill="none" stroke="#2a2a2a" stroke-width="0.9" stroke-linejoin="round"/>
<polyline points="99.30,92.70 99.76,92.69 100.22,92.68 100.68,92.65 101.14,92.62 101.60,92.57 102.06,92.51 102.53,92.45 102.99,92.37 103.45,92.29 103.91,92.19 104.37,92.09 104.83,91.98 105.29,91.86 105.75,91.74 106.21,91.60 106.67,91.46 107.13,91.32 107.59,91.17 108.05,91.01 108.52,90.85 108.98,90.68 109.44,90.51 109.90,90.33 110.36,90.15 110.82,89.97 111.28,89.78 111.74,89.59 112.20,89.40 112.66,89.21 113.12,89.01 113.58,88.81 114.04,88.61 114.50,88.41 114.97,88.21 115.43,88.01 115.89,87.80 116.35,87.60 116.81,87.39 117.27,87.19 117.73,86.98 118.19,86.77 118.65,86.57 119.11,86.36 119.57,86.15 120.03,85.94 120.49,85.73 120.96,85.52 121.42,85.32 121.88,85.11 122.34,84.90 122.80,84.69 123.26,84.47 123.72,84.26 124.18,84.05 124.64,83.84 125.10,83.62 125.56,83.41 126.02,83.20 126.48,82.98 126.94,82.76 127.41,82.55 127.87,82.33 128.33,82.11 128.79,81.89 129.25,81.66 129.71,81.44 130.17,81.21 130.63,80.99 131.09,80.76 131.55,80.53 132.01,80.30 132.47,80.07 132.93,79.83 133.40,79.60 133.86,79.36 134.32,79.12 134.78,78.88 135.24,78.64 135.70,78.39 136.16,78.15 136.62,77.90 137.08,77.65 137.54,77.40 138.00,77.14 138.46,76.89 138.92,76.63 139.39,76.37 139.85,76.11 140.31,75.85 140.77,75.58 141.23,75.32 141.69,75.05 142.15,74.78 142.61,74.51 143.07,74.24 143.53,73.96 143.99,73.69 144.45,73.41 144.91,73.13 145.38,72.85 145.84,72.56 146.30,72.28 146.76,71.99 147.22,71.70 147.68,71.41 148.14,71.12 148.60,70.83 149.06,70.53 149.52,70.23 149.98,69.94 150.44,69.64 150.90,69.34 151.36,69.03 151.83,68.73 152.29,68.42 152.75,68.11 153.21,67.81 153.67,67.50 154.13,67.18 154.59,66.87" fill="none" stroke="#2a2a2a" stroke-width="0.9" stroke-linejoin="round"/>
<polyline points="99.30,92.70 99.76,92.69 100.22,92.68 100.68,92.65 101.14,92.62 101.60,92.57 102.06,92.51 102.53,92.45 102.99,92.37 103.45,92.29 103.91,92.19 104.37,92.09 104.83,91.99 105.29,91.87 105.75,91.75 106.21,91.62 106.67,91.48 107.13,91.34 107.59,91.19 108.05,91.04 108.52,90.89 108.98,90.73 109.44,90.57 109.90,90.40 110.36,90.24 110.82,90.07 111.28,89.89 111.74,89.72 112.20,89.55 112.66,89.37 113.12,89.19 113.58,89.02 114.04,88.84 114.50,88.67 114.97,88.49 115.43,88.32 115.89,88.14 116.35,87.97 116.81,87.80 117.27,87.63 117.73,87.46 118.19,87.29 118.65,87.13 119.11,86.96 119.57,86.80 120.03,86.64 120.49,86.48 120.96,86.32 121.42,86.16 121.88,86.00 122.34,85.85 122.80,85.69 123.26,85.54 123.72,85.39 124.18,85.24 124.64,85.09 125.10,84.94 125.56,84.79 126.02,84.64 126.48,84.49 126.94,84.34 127.41,84.20 127.87,84.05 128.33,83.90 128.79,83.76 129.25,83.61 129.71,83.46 130.17,83.32 130.63,83.17 131.09,83.02 131.55,82.87 132.01,82.72 132.47,82.57 132.93,82.42 133.40,82.27 133.86,82.12 134.32,81.97 134.78,81.82 135.24,81.66 135.70,81.51 136.16,81.35 136.62,81.20 137.08,81.04 137.54,80.88 138.00,80.72 138.46,80.56 138.92,80.40 139.39,80.24 139.85,80.08 140.31,79.91 140.77,79.75 141.23,79.58 141.69,79.41 142.15,79.24 142.61,79.07 143.07,78.90 143.53,78.73 143.99,78.56 144.45,78.39 144.91,78.21 145.38,78.03 145.84,77.86 146.30,77.68 146.76,77.50 147.22,77.32 147.68,77.14 148.14,76.96 148.60,76.77 149.06,76.59 149.52,76.40 149.98,76.22 150.44,76.03 150.90,75.84 151.36,75.65 151.83,75.46 152.29,75.27 152.75,75.08 153.21,74.89 153.67,74.69 154.13,74.50 154.59,74.30" fill="none" stroke="#2a2a2a" stroke-width="0.9" stroke-linejoin="round"/>
<polyline points="99.30,92.70 99.76,92.69 100.22,92.68 100.68,92.65 101.14,92.62 101.60,92.57 102.06,92.51 102.53,92.45 102.99,92.37 103.45,92.29 103.91,92.20 104.37,92.10 104.83,91.99 105.29,91.87 105.75,91.75 106.21,91.62 106.67,91.49 107.13,91.35 107.59,91.21 108.05,91.06 108.52,90.91 108.98,90.76 109.44,90.60 109.90,90.44 110.36,90.28 110.82,90.11 111.28,89.95 111.74,89.79 112.20,89.62 112.66,89.45 113.12,89.29 113.58,89.12 114.04,88.96 114.50,88.80 114.97,88.64 115.43,88.48 115.89,88.32 116.35,88.16 116.81,88.01 117.27,87.86 117.73,87.71 118.19,87.56 118.65,87.42 119.11,87.27 119.57,87.13 120.03,86.99 120.49,86.86 120.96,86.73 121.42,86.59 121.88,86.46 122.34,86.34 122.80,86.21 123.26,86.09 123.72,85.97 124.18,85.85 124.64,85.73 125.10,85.61 125.56,85.50 126.02,85.39 126.48,85.27 126.94,85.16 127.41,85.05 127.87,84.94 128.33,84.83 128.79,84.72 129.25,84.62 129.71,84.51 130.17,84.40 130.63,84.30 131.09,84.19 131.55,84.08 132.01,83.98 132.47,83.87 132.93,83.76 133.40,83.66 133.86,83.55 134.32,83.44 134.78,83.34 135.24,83.23 135.70,83.12 136.16,83.01 136.62,82.90 137.08,82.79 137.54,82.68 138.00,82.57 138.46,82.46 138.92,82.35 139.39,82.24 139.85,82.13 140.31,82.01 140.77,81.90 141.23,81.78 141.69,81.67 142.15,81.55 142.61,81.43 143.07,81.32 143.53,81.20 143.99,81.08 144.45,80.96 144.91,80.84 145.38,80.72 145.84,80.59 146.30,80.47 146.76,80.35 147.22,80.22 147.68,80.10 148.14,79.97 148.60,79.85 149.06,79.72 149.52,79.59 149.98,79.47 150.44,79.34 150.90,79.21 151.36,79.08 151.83,78.95 152.29,78.81 152.75,78.68 153.21,78.55 153.67,78.42 154.13,78.28 154.59,78.15" fill="none" stroke="#2a2a2a" stroke-width="0.9" stroke-linejoin="round"/>
<text x="156.00" y="35.10" font-family='"Liberation Serif", serif' font-size="8.5" text-anchor="start" font-weight="normal" font-style="italic" fill="#111">a</text>
<text x="156.00" y="42.60" font-family='"Liberation Serif", serif' font-size="8.5" text-anchor="start" font-weight="normal" font-style="italic" fill="#111">b</text>
<text x="156.00" y="47.60" font-family='"Liberation Serif", serif' font-size="8.5" text-anchor="start" font-weight="normal" font-style="italic" fill="#111">c</text>
<text x="156.00" y="54.60" font-family='"Liberation Serif", serif' font-size="8.5" text-anchor="start" font-weight="normal" font-style="italic" fill="#111">d</text>
<text x="156.00" y="61.30" font-family='"Liberation Serif", serif' font-size="8.5" text-anchor="start" font-weight="normal" font-style="italic" fill="#111">e</text>
<text x="156.50" y="68.50" font-family='"Liberation Serif", serif' font-size="8.5" text-anchor="start" font-weight="normal" font-style="italic" fill="#111">f</text>
<text x="156.00" y="75.50" font-family='"Liberation Serif", serif' font-size="8.5" text-anchor="start" font-weight="normal" font-style="italic" fill="#111">g</text>
<text x="156.00" y="85.30" font-family='"Liberation Serif", serif' font-size="8.5" text-anchor="start" font-weight="normal" font-style="italic" fill="#111">h</text>
<text x="271.50" y="12.70" font-family='"Liberation Sans", sans-serif' font-size="17" text-anchor="start" font-weight="bold" font-style="normal" fill="#111">B</text>
<rect x="321.00" y="18.60" width="195.40" height="194.80" fill="none" stroke="#6a6a6a" stroke-width="1"/>
<line x1="314.20" y1="213.30" x2="321.00" y2="213.30" stroke="#6a6a6a" stroke-width="1"/>
<text x="310.30" y="218.20" font-family='"Liberation Sans", sans-serif' font-size="12.6" text-anchor="end" font-weight="normal" font-style="normal" fill="#111">0</text>
<line x1="314.20" y1="174.38" x2="321.00" y2="174.38" stroke="#6a6a6a" stroke-width="1"/>
<text x="310.30" y="179.28" font-family='"Liberation Sans", sans-serif' font-size="12.6" text-anchor="end" font-weight="normal" font-style="normal" fill="#111">5</text>
<line x1="314.20" y1="135.46" x2="321.00" y2="135.46" stroke="#6a6a6a" stroke-width="1"/>
<text x="310.30" y="140.36" font-family='"Liberation Sans", sans-serif' font-size="12.6" text-anchor="end" font-weight="normal" font-style="normal" fill="#111">10</text>
<line x1="314.20" y1="96.54" x2="321.00" y2="96.54" stroke="#6a6a6a" stroke-width="1"/>
<text x="310.30" y="101.44" font-family='"Liberation Sans", sans-serif' font-size="12.6" text-anchor="end" font-weight="normal" font-style="normal" fill="#111">15</text>
<line x1="314.20" y1="57.62" x2="321.00" y2="57.62" stroke="#6a6a6a" stroke-width="1"/>
<text x="310.30" y="62.52" font-family='"Liberation Sans", sans-serif' font-size="12.6" text-anchor="end" font-weight="normal" font-style="normal" fill="#111">20</text>
<line x1="314.20" y1="18.70" x2="321.00" y2="18.70" stroke="#6a6a6a" stroke-width="1"/>
<text x="310.30" y="23.60" font-family='"Liberation Sans", sans-serif' font-size="12.6" text-anchor="end" font-weight="normal" font-style="normal" fill="#111">25</text>
<line x1="321.70" y1="213.40" x2="321.70" y2="221.00" stroke="#6a6a6a" stroke-width="1"/>
<text x="321.70" y="236.60" font-family='"Liberation Sans", sans-serif' font-size="12.6" text-anchor="middle" font-weight="normal" font-style="normal" fill="#111">0</text>
<line x1="370.37" y1="213.40" x2="370.37" y2="221.00" stroke="#6a6a6a" stroke-width="1"/>
<text x="370.37" y="236.60" font-family='"Liberation Sans", sans-serif' font-size="12.6" text-anchor="middle" font-weight="normal" font-style="normal" fill="#111">1</text>
<line x1="419.04" y1="213.40" x2="419.04" y2="221.00" stroke="#6a6a6a" stroke-width="1"/>
<text x="419.04" y="236.60" font-family='"Liberation Sans", sans-serif' font-size="12.6" text-anchor="middle" font-weight="normal" font-style="normal" fill="#111">2</text>
<line x1="467.71" y1="213.40" x2="467.71" y2="221.00" stroke="#6a6a6a" stroke-width="1"/>
<text x="467.71" y="236.60" font-family='"Liberation Sans", sans-serif' font-size="12.6" text-anchor="middle" font-weight="normal" font-style="normal" fill="#111">3</text>
<line x1="516.38" y1="213.40" x2="516.38" y2="221.00" stroke="#6a6a6a" stroke-width="1"/>
<text x="516.38" y="236.60" font-family='"Liberation Sans", sans-serif' font-size="12.6" text-anchor="middle" font-weight="normal" font-style="normal" fill="#111">4</text>
<text x="419.40" y="266.00" font-family='"Liberation Serif", serif' font-size="18" text-anchor="middle" font-weight="normal" font-style="normal" fill="#111">Time (min)</text>
<text x="284.80" y="113.00" font-family='"Liberation Serif", serif' font-size="18" text-anchor="middle" font-weight="normal" font-style="normal" fill="#111" transform="rotate(-90 284.80 113.00)">Factor Xa (pM)</text>
<text x="428.20" y="39.50" font-family='"Liberation Serif", serif' font-size="12.65" text-anchor="start" font-weight="normal" font-style="normal" fill="#111">IXOLARIS</text>
<polyline points="322.20,212.70 327.06,207.49 331.91,202.31 336.76,197.15 341.62,192.02 346.47,186.90 351.33,181.81 356.19,176.74 361.04,171.70 365.89,166.67 370.75,161.67 375.60,156.69 380.46,151.74 385.31,146.80 390.17,141.89 395.02,137.00 399.88,132.13 404.74,127.28 409.59,122.45 414.44,117.64 419.30,112.86 424.15,108.10 429.01,103.35 433.87,98.63 438.72,93.93 443.57,89.25 448.43,84.60 453.28,79.96 458.14,75.34 463.00,70.74 467.85,66.17 472.70,61.61 477.56,57.07 482.41,52.56 487.27,48.06 492.12,43.59 496.98,39.13 501.83,34.69 506.69,30.28 511.54,25.88 516.40,21.50" fill="none" stroke="#2a2a2a" stroke-width="1" stroke-linejoin="round"/>
<polyline points="322.20,212.70 327.06,208.46 331.91,204.24 336.76,200.04 341.62,195.86 346.47,191.70 351.33,187.56 356.19,183.44 361.04,179.33 365.89,175.25 370.75,171.19 375.60,167.14 380.46,163.11 385.31,159.10 390.17,155.11 395.02,151.14 399.88,147.19 404.74,143.25 409.59,139.33 414.44,135.43 419.30,131.55 424.15,127.69 429.01,123.85 433.87,120.02 438.72,116.21 443.57,112.42 448.43,108.64 453.28,104.89 458.14,101.15 463.00,97.42 467.85,93.72 472.70,90.03 477.56,86.36 482.41,82.71 487.27,79.07 492.12,75.45 496.98,71.85 501.83,68.26 506.69,64.69 511.54,61.14 516.40,57.60" fill="none" stroke="#2a2a2a" stroke-width="1" stroke-linejoin="round"/>
<polyline points="322.20,212.70 327.06,209.45 331.91,206.21 336.76,202.99 341.62,199.79 346.47,196.60 351.33,193.43 356.19,190.28 361.04,187.14 365.89,184.01 370.75,180.91 375.60,177.81 380.46,174.74 385.31,171.68 390.17,168.63 395.02,165.60 399.88,162.59 404.74,159.59 409.59,156.60 414.44,153.63 419.30,150.68 424.15,147.74 429.01,144.81 433.87,141.90 438.72,139.00 443.57,136.12 448.43,133.26 453.28,130.40 458.14,127.56 463.00,124.74 467.85,121.93 472.70,119.14 477.56,116.35 482.41,113.59 487.27,110.83 492.12,108.09 496.98,105.37 501.83,102.66 506.69,99.96 511.54,97.27 516.40,94.60" fill="none" stroke="#2a2a2a" stroke-width="1" stroke-linejoin="round"/>
<polyline points="322.20,212.70 327.06,210.06 331.91,207.43 336.76,204.82 341.62,202.24 346.47,199.67 351.33,197.12 356.19,194.58 361.04,192.07 365.89,189.58 370.75,187.10 375.60,184.64 380.46,182.20 385.31,179.78 390.17,177.37 395.02,174.98 399.88,172.61 404.74,170.26 409.59,167.92 414.44,165.60 419.30,163.30 424.15,161.01 429.01,158.74 433.87,156.49 438.72,154.25 443.57,152.03 448.43,149.83 453.28,147.64 458.14,145.47 463.00,143.31 467.85,141.17 472.70,139.05 477.56,136.94 482.41,134.84 487.27,132.76 492.12,130.70 496.98,128.65 501.83,126.61 506.69,124.60 511.54,122.59 516.40,120.60" fill="none" stroke="#2a2a2a" stroke-width="1" stroke-linejoin="round"/>
<polyline points="322.20,212.70 327.06,210.68 331.91,208.68 336.76,206.70 341.62,204.74 346.47,202.80 351.33,200.88 356.19,198.97 361.04,197.08 365.89,195.21 370.75,193.36 375.60,191.52 380.46,189.71 385.31,187.91 390.17,186.12 395.02,184.35 399.88,182.60 404.74,180.87 409.59,179.15 414.44,177.45 419.30,175.77 424.15,174.10 429.01,172.44 433.87,170.80 438.72,169.18 443.57,167.57 448.43,165.98 453.28,164.40 458.14,162.84 463.00,161.29 467.85,159.76 472.70,158.24 477.56,156.74 482.41,155.25 487.27,153.77 492.12,152.31 496.98,150.86 501.83,149.42 506.69,148.00 511.54,146.59 516.40,145.20" fill="none" stroke="#2a2a2a" stroke-width="1" stroke-linejoin="round"/>
<polyline points="322.20,212.70 327.06,211.92 331.91,211.14 336.76,210.37 341.62,209.61 346.47,208.86 351.33,208.11 356.19,207.37 361.04,206.63 365.89,205.91 370.75,205.19 375.60,204.47 380.46,203.76 385.31,203.06 390.17,202.36 395.02,201.67 399.88,200.99 404.74,200.31 409.59,199.64 414.44,198.98 419.30,198.32 424.15,197.66 429.01,197.02 433.87,196.37 438.72,195.74 443.57,195.11 448.43,194.48 453.28,193.86 458.14,193.25 463.00,192.64 467.85,192.04 472.70,191.44 477.56,190.85 482.41,190.26 487.27,189.68 492.12,189.10 496.98,188.53 501.83,187.97 506.69,187.41 511.54,186.85 516.40,186.30" fill="none" stroke="#2a2a2a" stroke-width="1" stroke-linejoin="round"/>
<polyline points="322.20,212.70 327.06,212.31 331.91,211.93 336.76,211.55 341.62,211.18 346.47,210.81 351.33,210.45 356.19,210.09 361.04,209.74 365.89,209.39 370.75,209.05 375.60,208.71 380.46,208.38 385.31,208.05 390.17,207.73 395.02,207.41 399.88,207.09 404.74,206.78 409.59,206.47 414.44,206.17 419.30,205.87 424.15,205.58 429.01,205.29 433.87,205.00 438.72,204.72 443.57,204.44 448.43,204.17 453.28,203.90 458.14,203.63 463.00,203.37 467.85,203.11 472.70,202.85 477.56,202.60 482.41,202.35 487.27,202.10 492.12,201.86 496.98,201.62 501.83,201.39 506.69,201.16 511.54,200.93 516.40,200.70" fill="none" stroke="#2a2a2a" stroke-width="1" stroke-linejoin="round"/>
<polyline points="322.20,212.70 327.06,212.62 331.91,212.53 336.76,212.45 341.62,212.37 346.47,212.29 351.33,212.21 356.19,212.14 361.04,212.06 365.89,211.99 370.75,211.92 375.60,211.84 380.46,211.77 385.31,211.70 390.17,211.64 395.02,211.57 399.88,211.50 404.74,211.44 409.59,211.37 414.44,211.31 419.30,211.25 424.15,211.19 429.01,211.13 433.87,211.07 438.72,211.01 443.57,210.95 448.43,210.90 453.28,210.84 458.14,210.79 463.00,210.74 467.85,210.68 472.70,210.63 477.56,210.58 482.41,210.53 487.27,210.48 492.12,210.43 496.98,210.38 501.83,210.34 506.69,210.29 511.54,210.24 516.40,210.20" fill="none" stroke="#2a2a2a" stroke-width="1" stroke-linejoin="round"/>
<text x="498.30" y="30.70" font-family='"Liberation Sans", sans-serif' font-size="12.5" text-anchor="start" font-weight="normal" font-style="italic" fill="#111">a</text>
<text x="505.50" y="56.70" font-family='"Liberation Sans", sans-serif' font-size="12.5" text-anchor="start" font-weight="normal" font-style="italic" fill="#111">b</text>
<text x="505.50" y="93.70" font-family='"Liberation Sans", sans-serif' font-size="12.5" text-anchor="start" font-weight="normal" font-style="italic" fill="#111">c</text>
<text x="505.50" y="119.30" font-family='"Liberation Sans", sans-serif' font-size="12.5" text-anchor="start" font-weight="normal" font-style="italic" fill="#111">d</text>
<text x="505.50" y="143.30" font-family='"Liberation Sans", sans-serif' font-size="12.5" text-anchor="start" font-weight="normal" font-style="italic" fill="#111">e</text>
<text x="508.50" y="185.60" font-family='"Liberation Sans", sans-serif' font-size="12.5" text-anchor="start" font-weight="normal" font-style="italic" fill="#111">f</text>
<text x="506.50" y="195.50" font-family='"Liberation Sans", sans-serif' font-size="12.5" text-anchor="start" font-weight="normal" font-style="italic" fill="#111">g</text>
<text x="506.50" y="210.00" font-family='"Liberation Sans", sans-serif' font-size="12.5" text-anchor="start" font-weight="normal" font-style="italic" fill="#111">h</text>
<rect x="354.50" y="25.10" width="65.90" height="65.30" fill="none" stroke="#6a6a6a" stroke-width="1"/>
<line x1="348.00" y1="88.80" x2="354.50" y2="88.80" stroke="#6a6a6a" stroke-width="1"/>
<text x="346.30" y="93.30" font-family='"Liberation Sans", sans-serif' font-size="7" text-anchor="end" font-weight="bold" font-style="normal" fill="#111">0</text>
<line x1="348.00" y1="58.60" x2="354.50" y2="58.60" stroke="#6a6a6a" stroke-width="1"/>
<text x="346.30" y="61.20" font-family='"Liberation Sans", sans-serif' font-size="7" text-anchor="end" font-weight="bold" font-style="normal" fill="#111">100</text>
<line x1="348.00" y1="28.50" x2="354.50" y2="28.50" stroke="#6a6a6a" stroke-width="1"/>
<text x="346.30" y="31.10" font-family='"Liberation Sans", sans-serif' font-size="7" text-anchor="end" font-weight="bold" font-style="normal" fill="#111">200</text>
<line x1="356.00" y1="90.40" x2="356.00" y2="97.00" stroke="#6a6a6a" stroke-width="1"/>
<text x="356.00" y="105.90" font-family='"Liberation Sans", sans-serif' font-size="7" text-anchor="middle" font-weight="bold" font-style="normal" fill="#111">0</text>
<line x1="369.40" y1="90.40" x2="369.40" y2="97.00" stroke="#6a6a6a" stroke-width="1"/>
<text x="369.40" y="105.90" font-family='"Liberation Sans", sans-serif' font-size="7" text-anchor="middle" font-weight="bold" font-style="normal" fill="#111">10</text>
<line x1="382.80" y1="90.40" x2="382.80" y2="97.00" stroke="#6a6a6a" stroke-width="1"/>
<text x="382.80" y="105.90" font-family='"Liberation Sans", sans-serif' font-size="7" text-anchor="middle" font-weight="bold" font-style="normal" fill="#111">20</text>
<line x1="396.20" y1="90.40" x2="396.20" y2="97.00" stroke="#6a6a6a" stroke-width="1"/>
<text x="396.20" y="105.90" font-family='"Liberation Sans", sans-serif' font-size="7" text-anchor="middle" font-weight="bold" font-style="normal" fill="#111">30</text>
<line x1="409.60" y1="90.40" x2="409.60" y2="97.00" stroke="#6a6a6a" stroke-width="1"/>
<text x="409.60" y="105.90" font-family='"Liberation Sans", sans-serif' font-size="7" text-anchor="middle" font-weight="bold" font-style="normal" fill="#111">40</text>
<text x="386.30" y="119.00" font-family='"Liberation Serif", serif' font-size="10.7" text-anchor="middle" font-weight="bold" font-style="normal" fill="#111">Time (min)</text>
<text x="333.50" y="58.10" font-family='"Liberation Serif", serif' font-size="10.7" text-anchor="middle" font-weight="bold" font-style="normal" fill="#111" transform="rotate(-90 333.50 58.10)">Factor Xa (pM)</text>
<text x="393.20" y="86.20" font-family='"Liberation Serif", serif' font-size="11" text-anchor="start" font-weight="normal" font-style="normal" fill="#111">TFPI</text>
<polyline points="356.00,88.80 356.67,87.97 357.34,87.15 358.01,86.32 358.68,85.50 359.35,84.69 360.02,83.87 360.69,83.06 361.36,82.25 362.03,81.44 362.70,80.64 363.37,79.83 364.04,79.03 364.71,78.24 365.38,77.44 366.05,76.65 366.72,75.86 367.39,75.07 368.06,74.29 368.73,73.51 369.40,72.73 370.07,71.95 370.74,71.17 371.41,70.40 372.08,69.63 372.75,68.86 373.42,68.10 374.09,67.33 374.76,66.57 375.43,65.81 376.10,65.06 376.77,64.30 377.44,63.55 378.11,62.80 378.78,62.06 379.45,61.31 380.12,60.57 380.79,59.83 381.46,59.09 382.13,58.36 382.80,57.62 383.47,56.89 384.14,56.17 384.81,55.44 385.48,54.72 386.15,53.99 386.82,53.27 387.49,52.56 388.16,51.84 388.83,51.13 389.50,50.42 390.17,49.71 390.84,49.01 391.51,48.30 392.18,47.60 392.85,46.90 393.52,46.20 394.19,45.51 394.86,44.82 395.53,44.13 396.20,43.44 396.87,42.75 397.54,42.07 398.21,41.39 398.88,40.71 399.55,40.03 400.22,39.35 400.89,38.68 401.56,38.01 402.23,37.34 402.90,36.67 403.57,36.01 404.24,35.34 404.91,34.68 405.58,34.02 406.25,33.37 406.92,32.71 407.59,32.06 408.26,31.41 408.93,30.76 409.60,30.11" fill="none" stroke="#2a2a2a" stroke-width="0.9" stroke-linejoin="round"/>
<polyline points="356.00,88.80 356.67,87.97 357.34,87.15 358.01,86.33 358.68,85.51 359.35,84.70 360.02,83.89 360.69,83.09 361.36,82.29 362.03,81.49 362.70,80.70 363.37,79.91 364.04,79.12 364.71,78.34 365.38,77.56 366.05,76.78 366.72,76.01 367.39,75.24 368.06,74.48 368.73,73.71 369.40,72.96 370.07,72.20 370.74,71.45 371.41,70.70 372.08,69.96 372.75,69.22 373.42,68.48 374.09,67.74 374.76,67.01 375.43,66.29 376.10,65.56 376.77,64.84 377.44,64.12 378.11,63.41 378.78,62.70 379.45,61.99 380.12,61.29 380.79,60.58 381.46,59.89 382.13,59.19 382.80,58.50 383.47,57.81 384.14,57.13 384.81,56.44 385.48,55.76 386.15,55.09 386.82,54.42 387.49,53.75 388.16,53.08 388.83,52.42 389.50,51.75 390.17,51.10 390.84,50.44 391.51,49.79 392.18,49.14 392.85,48.50 393.52,47.85 394.19,47.21 394.86,46.58 395.53,45.94 396.20,45.31 396.87,44.68 397.54,44.06 398.21,43.44 398.88,42.82 399.55,42.20 400.22,41.59 400.89,40.97 401.56,40.37 402.23,39.76 402.90,39.16 403.57,38.56 404.24,37.96 404.91,37.37 405.58,36.77 406.25,36.18 406.92,35.60 407.59,35.01 408.26,34.43 408.93,33.85 409.60,33.28" fill="none" stroke="#2a2a2a" stroke-width="0.9" stroke-linejoin="round"/>
<polyline points="356.00,88.80 356.67,87.97 357.34,87.15 358.01,86.34 358.68,85.53 359.35,84.73 360.02,83.94 360.69,83.15 361.36,82.37 362.03,81.59 362.70,80.82 363.37,80.06 364.04,79.30 364.71,78.54 365.38,77.80 366.05,77.06 366.72,76.32 367.39,75.59 368.06,74.87 368.73,74.15 369.40,73.43 370.07,72.73 370.74,72.02 371.41,71.33 372.08,70.63 372.75,69.95 373.42,69.27 374.09,68.59 374.76,67.92 375.43,67.26 376.10,66.60 376.77,65.94 377.44,65.29 378.11,64.64 378.78,64.00 379.45,63.37 380.12,62.74 380.79,62.11 381.46,61.49 382.13,60.88 382.80,60.26 383.47,59.66 384.14,59.06 384.81,58.46 385.48,57.87 386.15,57.28 386.82,56.69 387.49,56.12 388.16,55.54 388.83,54.97 389.50,54.40 390.17,53.84 390.84,53.29 391.51,52.73 392.18,52.18 392.85,51.64 393.52,51.10 394.19,50.56 394.86,50.03 395.53,49.50 396.20,48.98 396.87,48.46 397.54,47.94 398.21,47.43 398.88,46.92 399.55,46.42 400.22,45.92 400.89,45.42 401.56,44.93 402.23,44.44 402.90,43.96 403.57,43.48 404.24,43.00 404.91,42.52 405.58,42.05 406.25,41.59 406.92,41.12 407.59,40.66 408.26,40.21 408.93,39.76 409.60,39.31" fill="none" stroke="#2a2a2a" stroke-width="0.9" stroke-linejoin="round"/>
<polyline points="356.00,88.80 356.67,87.98 357.34,87.16 358.01,86.35 358.68,85.56 359.35,84.77 360.02,83.99 360.69,83.22 361.36,82.46 362.03,81.71 362.70,80.97 363.37,80.23 364.04,79.50 364.71,78.79 365.38,78.08 366.05,77.37 366.72,76.68 367.39,75.99 368.06,75.32 368.73,74.64 369.40,73.98 370.07,73.33 370.74,72.68 371.41,72.04 372.08,71.40 372.75,70.78 373.42,70.16 374.09,69.55 374.76,68.94 375.43,68.34 376.10,67.75 376.77,67.17 377.44,66.59 378.11,66.02 378.78,65.46 379.45,64.90 380.12,64.35 380.79,63.80 381.46,63.26 382.13,62.73 382.80,62.20 383.47,61.68 384.14,61.16 384.81,60.66 385.48,60.15 386.15,59.65 386.82,59.16 387.49,58.68 388.16,58.19 388.83,57.72 389.50,57.25 390.17,56.78 390.84,56.33 391.51,55.87 392.18,55.42 392.85,54.98 393.52,54.54 394.19,54.11 394.86,53.68 395.53,53.25 396.20,52.83 396.87,52.42 397.54,52.01 398.21,51.61 398.88,51.20 399.55,50.81 400.22,50.42 400.89,50.03 401.56,49.65 402.23,49.27 402.90,48.90 403.57,48.53 404.24,48.16 404.91,47.80 405.58,47.44 406.25,47.09 406.92,46.74 407.59,46.40 408.26,46.06 408.93,45.72 409.60,45.39" fill="none" stroke="#2a2a2a" stroke-width="0.9" stroke-linejoin="round"/>
<polyline points="356.00,88.80 356.67,87.98 357.34,87.17 358.01,86.38 358.68,85.61 359.35,84.85 360.02,84.10 360.69,83.37 361.36,82.65 362.03,81.95 362.70,81.26 363.37,80.58 364.04,79.92 364.71,79.26 365.38,78.62 366.05,78.00 366.72,77.38 367.39,76.78 368.06,76.18 368.73,75.60 369.40,75.03 370.07,74.48 370.74,73.93 371.41,73.39 372.08,72.86 372.75,72.34 373.42,71.84 374.09,71.34 374.76,70.85 375.43,70.37 376.10,69.90 376.77,69.44 377.44,68.99 378.11,68.54 378.78,68.11 379.45,67.68 380.12,67.26 380.79,66.85 381.46,66.45 382.13,66.05 382.80,65.66 383.47,65.28 384.14,64.91 384.81,64.54 385.48,64.18 386.15,63.83 386.82,63.49 387.49,63.15 388.16,62.81 388.83,62.49 389.50,62.17 390.17,61.85 390.84,61.55 391.51,61.24 392.18,60.95 392.85,60.66 393.52,60.37 394.19,60.09 394.86,59.82 395.53,59.55 396.20,59.28 396.87,59.03 397.54,58.77 398.21,58.52 398.88,58.28 399.55,58.04 400.22,57.80 400.89,57.57 401.56,57.35 402.23,57.12 402.90,56.91 403.57,56.69 404.24,56.48 404.91,56.28 405.58,56.07 406.25,55.88 406.92,55.68 407.59,55.49 408.26,55.31 408.93,55.12 409.60,54.94" fill="none" stroke="#2a2a2a" stroke-width="0.9" stroke-linejoin="round"/>
<text x="413.00" y="30.60" font-family='"Liberation Serif", serif' font-size="8.5" text-anchor="start" font-weight="normal" font-style="italic" fill="#111">a</text>
<text x="413.00" y="37.90" font-family='"Liberation Serif", serif' font-size="8.5" text-anchor="start" font-weight="normal" font-style="italic" fill="#111">b</text>
<text x="413.00" y="43.60" font-family='"Liberation Serif", serif' font-size="8.5" text-anchor="start" font-weight="normal" font-style="italic" fill="#111">c</text>
<text x="413.00" y="49.10" font-family='"Liberation Serif", serif' font-size="8.5" text-anchor="start" font-weight="normal" font-style="italic" fill="#111">d</text>
<text x="413.00" y="57.10" font-family='"Liberation Serif", serif' font-size="8.5" text-anchor="start" font-weight="normal" font-style="italic" fill="#111">e</text>
<text x="0.30" y="306.30" font-family='"Liberation Sans", sans-serif' font-size="17" text-anchor="start" font-weight="bold" font-style="normal" fill="#111">C</text>
<rect x="59.10" y="313.00" width="196.60" height="195.80" fill="none" stroke="#6a6a6a" stroke-width="1"/>
<line x1="52.50" y1="499.00" x2="59.10" y2="499.00" stroke="#6a6a6a" stroke-width="1"/>
<text x="45.80" y="502.20" font-family='"Liberation Sans", sans-serif' font-size="12.6" text-anchor="end" font-weight="normal" font-style="normal" fill="#111">0.00</text>
<line x1="52.50" y1="454.60" x2="59.10" y2="454.60" stroke="#6a6a6a" stroke-width="1"/>
<text x="45.80" y="457.80" font-family='"Liberation Sans", sans-serif' font-size="12.6" text-anchor="end" font-weight="normal" font-style="normal" fill="#111">0.25</text>
<line x1="52.50" y1="410.20" x2="59.10" y2="410.20" stroke="#6a6a6a" stroke-width="1"/>
<text x="45.80" y="413.40" font-family='"Liberation Sans", sans-serif' font-size="12.6" text-anchor="end" font-weight="normal" font-style="normal" fill="#111">0.50</text>
<line x1="52.50" y1="365.80" x2="59.10" y2="365.80" stroke="#6a6a6a" stroke-width="1"/>
<text x="45.80" y="369.00" font-family='"Liberation Sans", sans-serif' font-size="12.6" text-anchor="end" font-weight="normal" font-style="normal" fill="#111">0.75</text>
<line x1="52.50" y1="321.40" x2="59.10" y2="321.40" stroke="#6a6a6a" stroke-width="1"/>
<text x="45.80" y="324.60" font-family='"Liberation Sans", sans-serif' font-size="12.6" text-anchor="end" font-weight="normal" font-style="normal" fill="#111">1.00</text>
<line x1="63.10" y1="508.80" x2="63.10" y2="515.30" stroke="#6a6a6a" stroke-width="1"/>
<text x="62.90" y="530.80" font-family='"Liberation Sans", sans-serif' font-size="12.6" text-anchor="middle" font-weight="normal" font-style="normal" fill="#111">0</text>
<line x1="100.30" y1="508.80" x2="100.30" y2="515.30" stroke="#6a6a6a" stroke-width="1"/>
<text x="100.10" y="530.80" font-family='"Liberation Sans", sans-serif' font-size="12.6" text-anchor="middle" font-weight="normal" font-style="normal" fill="#111">1000</text>
<line x1="137.50" y1="508.80" x2="137.50" y2="515.30" stroke="#6a6a6a" stroke-width="1"/>
<text x="137.30" y="530.80" font-family='"Liberation Sans", sans-serif' font-size="12.6" text-anchor="middle" font-weight="normal" font-style="normal" fill="#111">2000</text>
<line x1="174.70" y1="508.80" x2="174.70" y2="515.30" stroke="#6a6a6a" stroke-width="1"/>
<text x="174.50" y="530.80" font-family='"Liberation Sans", sans-serif' font-size="12.6" text-anchor="middle" font-weight="normal" font-style="normal" fill="#111">3000</text>
<line x1="211.90" y1="508.80" x2="211.90" y2="515.30" stroke="#6a6a6a" stroke-width="1"/>
<text x="211.70" y="530.80" font-family='"Liberation Sans", sans-serif' font-size="12.6" text-anchor="middle" font-weight="normal" font-style="normal" fill="#111">4000</text>
<line x1="249.10" y1="508.80" x2="249.10" y2="515.30" stroke="#6a6a6a" stroke-width="1"/>
<text x="248.90" y="530.80" font-family='"Liberation Sans", sans-serif' font-size="12.6" text-anchor="middle" font-weight="normal" font-style="normal" fill="#111">5000</text>
<text x="105.50" y="558.00" font-family='"Liberation Serif", serif' font-size="18.3" text-anchor="start" font-weight="normal" font-style="normal" fill="#111">Ixolaris (pM)</text>
<text x="16.40" y="411.00" font-family='"Liberation Serif", serif' font-size="18" text-anchor="middle" font-weight="normal" font-style="normal" fill="#111" transform="rotate(-90 16.40 411.00)">Vs/Vo</text>
<text x="116.20" y="501.20" font-family='"Liberation Serif", serif' font-size="12.65" text-anchor="start" font-weight="normal" font-style="normal" fill="#111">IXOLARIS</text>
<polyline points="63.10,321.40 63.10,321.42 63.10,321.50 63.10,321.62 63.10,321.79 63.11,322.01 63.11,322.27 63.11,322.59 63.11,322.95 63.12,323.35 63.12,323.80 63.13,324.30 63.13,324.84 63.14,325.42 63.15,326.05 63.15,326.72 63.16,327.42 63.17,328.17 63.18,328.96 63.18,329.78 63.19,330.64 63.20,331.53 63.21,332.45 63.22,333.41 63.23,334.40 63.25,335.42 63.26,336.46 63.27,337.53 63.28,338.63 63.30,339.75 63.31,340.90 63.32,342.06 63.34,343.25 63.35,344.45 63.37,345.68 63.38,346.91 63.40,348.17 63.42,349.43 63.44,350.71 63.45,352.00 63.47,353.30 63.49,354.61 63.51,355.93 63.53,357.25 63.55,358.58 63.57,359.92 63.59,361.26 63.61,362.60 63.64,363.94 63.66,365.28 63.68,366.62 63.70,367.97 63.73,369.31 63.75,370.64 63.78,371.98 63.80,373.31 63.83,374.64 63.86,375.96 63.88,377.28 63.91,378.59 63.94,379.89 63.97,381.19 63.99,382.47 64.02,383.75 64.05,385.03 64.08,386.29 64.11,387.54 64.14,388.79 64.18,390.02 64.21,391.24 64.24,392.46 64.27,393.66 64.31,394.85 64.34,396.03 64.37,397.20 64.41,398.36 64.44,399.51 64.48,400.64 64.51,401.76 64.55,402.87 64.59,403.97 64.63,405.06 64.66,406.14 64.70,407.20 64.74,408.25 64.78,409.29 64.82,410.31 64.86,411.33 64.90,412.33 64.94,413.32 64.98,414.30 65.03,415.26 65.07,416.21 65.11,417.16 65.15,418.09 65.20,419.00 65.24,419.91 65.29,420.80 65.33,421.69 65.38,422.56 65.42,423.42 65.47,424.27 65.52,425.10 65.57,425.93 65.61,426.74 65.66,427.55 65.71,428.34 65.76,429.12 65.81,429.90 65.86,430.66 65.91,431.41 65.96,432.15 66.02,432.88 66.07,433.60 66.12,434.31 66.17,435.01 66.23,435.71 66.28,436.39 66.34,437.06 66.39,437.72 66.45,438.38 66.50,439.02 66.56,439.66 66.62,440.29 66.67,440.91 66.73,441.52 66.79,442.12 66.85,442.71 66.91,443.30 66.97,443.88 67.03,444.45 67.09,445.01 67.15,445.56 67.21,446.11 67.27,446.65 67.34,447.18 67.40,447.70 67.46,448.22 67.53,448.73 67.59,449.23 67.66,449.73 67.72,450.22 67.79,450.70 67.85,451.18 67.92,451.64 67.99,452.11 68.06,452.56 68.12,453.02 68.19,453.46 68.26,453.90 68.33,454.33 68.40,454.76 68.47,455.18 68.54,455.59 68.61,456.00 68.69,456.41 68.76,456.81 68.83,457.20 68.90,457.59 68.98,457.97 69.05,458.35 69.13,458.72 69.20,459.09 69.28,459.46 69.35,459.82 69.43,460.17 69.51,460.52 69.58,460.86 69.66,461.20 69.74,461.54 69.82,461.87 69.90,462.20 69.98,462.52 70.06,462.84 70.14,463.16 70.22,463.47 70.30,463.78 70.38,464.08 70.47,464.38 70.55,464.67 70.63,464.97 70.72,465.25 70.80,465.54 70.89,465.82 70.97,466.10 71.06,466.37 71.14,466.64 71.23,466.91 71.32,467.17 71.41,467.43 71.49,467.69 71.58,467.95 71.67,468.20 71.76,468.45 71.85,468.69 71.94,468.93 72.03,469.17 72.12,469.41 72.21,469.64 72.31,469.87 72.40,470.10 72.49,470.33 72.59,470.55 72.68,470.77 72.78,470.99 72.87,471.20 72.97,471.42 73.06,471.63 73.16,471.83 73.26,472.04 73.35,472.24 73.45,472.44 73.55,472.64 73.65,472.84 73.75,473.03 73.85,473.22 73.95,473.41 74.05,473.60 74.15,473.78 74.25,473.97 74.35,474.15 74.46,474.33 74.56,474.50 74.66,474.68 74.77,474.85 74.87,475.02 74.98,475.19 75.08,475.36 75.19,475.52 75.29,475.69 75.40,475.85 75.51,476.01 75.61,476.17 75.72,476.32 75.83,476.48 75.94,476.63 76.05,476.78 76.16,476.93 76.27,477.08 76.38,477.23 76.49,477.37 76.60,477.52 76.72,477.66 76.83,477.80 76.94,477.94 77.06,478.08 77.17,478.21 77.28,478.35 77.40,478.48 77.52,478.61 77.63,478.74 77.75,478.87 77.86,479.00 77.98,479.13 78.10,479.25 78.22,479.38 78.34,479.50 78.46,479.62 78.58,479.74 78.70,479.86 78.82,479.98 78.94,480.10 79.06,480.21 79.18,480.33 79.30,480.44 79.43,480.55 79.55,480.66 79.67,480.77 79.80,480.88 79.92,480.99 80.05,481.10 80.18,481.20 80.30,481.31 80.43,481.41 80.56,481.51 80.68,481.62 80.81,481.72 80.94,481.82 81.07,481.91 81.20,482.01 81.33,482.11 81.46,482.21 81.59,482.30 81.72,482.40 81.85,482.49 81.98,482.58 82.12,482.67 82.25,482.76 82.38,482.85 82.52,482.94 82.65,483.03 82.79,483.12 82.92,483.21 83.06,483.29 83.20,483.38 83.33,483.46 83.47,483.54 83.61,483.63 83.75,483.71 83.89,483.79 84.03,483.87 84.16,483.95 84.30,484.03 84.45,484.11 84.59,484.19 84.73,484.26 84.87,484.34 85.01,484.42 85.16,484.49 85.30,484.56 85.44,484.64 85.59,484.71 85.73,484.78 85.88,484.86 86.02,484.93 86.17,485.00 86.32,485.07 86.46,485.14 86.61,485.21 86.76,485.27 86.91,485.34 87.06,485.41 87.21,485.48 87.36,485.54 87.51,485.61 87.66,485.67 87.81,485.74 87.96,485.80 88.11,485.86 88.27,485.92 88.42,485.99 88.57,486.05 88.73,486.11 88.88,486.17 89.04,486.23 89.19,486.29 89.35,486.35 89.50,486.41 89.66,486.47 89.82,486.52 89.98,486.58 90.14,486.64 90.29,486.69 90.45,486.75 90.61,486.80 90.77,486.86 90.93,486.91 91.10,486.97 91.26,487.02 91.42,487.08 91.58,487.13 91.74,487.18 91.91,487.23 92.07,487.28 92.24,487.34 92.40,487.39 92.57,487.44 92.73,487.49 92.90,487.54 93.06,487.58 93.23,487.63 93.40,487.68 93.57,487.73 93.74,487.78 93.91,487.83 94.07,487.87 94.24,487.92 94.42,487.96 94.59,488.01 94.76,488.06 94.93,488.10 95.10,488.15 95.27,488.19 95.45,488.23 95.62,488.28 95.80,488.32 95.97,488.37 96.14,488.41 96.32,488.45 96.50,488.49 96.67,488.54 96.85,488.58 97.03,488.62 97.21,488.66 97.38,488.70 97.56,488.74 97.74,488.78 97.92,488.82 98.10,488.86 98.28,488.90 98.46,488.94 98.64,488.98 98.83,489.02 99.01,489.05 99.19,489.09 99.38,489.13 99.56,489.17 99.74,489.20 99.93,489.24 100.11,489.28 100.30,489.31" fill="none" stroke="#333" stroke-width="1" stroke-linejoin="round"/>
<polyline points="63.10,321.40 63.10,321.41 63.10,321.46 63.10,321.53 63.10,321.63 63.11,321.77 63.11,321.93 63.11,322.12 63.11,322.33 63.12,322.58 63.12,322.85 63.13,323.16 63.13,323.48 63.14,323.84 63.15,324.23 63.15,324.64 63.16,325.07 63.17,325.53 63.18,326.02 63.18,326.53 63.19,327.07 63.20,327.63 63.21,328.22 63.22,328.82 63.23,329.45 63.25,330.10 63.26,330.78 63.27,331.47 63.28,332.18 63.30,332.92 63.31,333.67 63.32,334.44 63.34,335.22 63.35,336.03 63.37,336.85 63.38,337.69 63.40,338.54 63.42,339.40 63.44,340.28 63.45,341.18 63.47,342.09 63.49,343.00 63.51,343.93 63.53,344.87 63.55,345.83 63.57,346.79 63.59,347.76 63.61,348.73 63.64,349.72 63.66,350.71 63.68,351.71 63.70,352.72 63.73,353.73 63.75,354.75 63.78,355.77 63.80,356.80 63.83,357.83 63.86,358.86 63.88,359.90 63.91,360.94 63.94,361.97 63.97,363.02 63.99,364.06 64.02,365.10 64.05,366.14 64.08,367.18 64.11,368.23 64.14,369.27 64.18,370.31 64.21,371.34 64.24,372.38 64.27,373.41 64.31,374.44 64.34,375.47 64.37,376.49 64.41,377.51 64.44,378.53 64.48,379.54 64.51,380.55 64.55,381.56 64.59,382.56 64.63,383.55 64.66,384.54 64.70,385.52 64.74,386.50 64.78,387.48 64.82,388.44 64.86,389.41 64.90,390.36 64.94,391.31 64.98,392.25 65.03,393.19 65.07,394.12 65.11,395.05 65.15,395.96 65.20,396.87 65.24,397.78 65.29,398.67 65.33,399.56 65.38,400.44 65.42,401.32 65.47,402.19 65.52,403.05 65.57,403.90 65.61,404.75 65.66,405.59 65.71,406.42 65.76,407.25 65.81,408.06 65.86,408.87 65.91,409.68 65.96,410.47 66.02,411.26 66.07,412.04 66.12,412.81 66.17,413.58 66.23,414.34 66.28,415.09 66.34,415.84 66.39,416.57 66.45,417.30 66.50,418.03 66.56,418.74 66.62,419.45 66.67,420.15 66.73,420.85 66.79,421.54 66.85,422.22 66.91,422.89 66.97,423.56 67.03,424.22 67.09,424.87 67.15,425.52 67.21,426.16 67.27,426.79 67.34,427.42 67.40,428.04 67.46,428.65 67.53,429.26 67.59,429.86 67.66,430.46 67.72,431.04 67.79,431.63 67.85,432.20 67.92,432.77 67.99,433.34 68.06,433.89 68.12,434.45 68.19,434.99 68.26,435.53 68.33,436.07 68.40,436.60 68.47,437.12 68.54,437.64 68.61,438.15 68.69,438.66 68.76,439.16 68.83,439.65 68.90,440.14 68.98,440.63 69.05,441.11 69.13,441.58 69.20,442.05 69.28,442.52 69.35,442.98 69.43,443.43 69.51,443.88 69.58,444.33 69.66,444.77 69.74,445.21 69.82,445.64 69.90,446.06 69.98,446.49 70.06,446.90 70.14,447.32 70.22,447.73 70.30,448.13 70.38,448.53 70.47,448.93 70.55,449.32 70.63,449.70 70.72,450.09 70.80,450.47 70.89,450.84 70.97,451.21 71.06,451.58 71.14,451.94 71.23,452.30 71.32,452.66 71.41,453.01 71.49,453.36 71.58,453.70 71.67,454.05 71.76,454.38 71.85,454.72 71.94,455.05 72.03,455.37 72.12,455.70 72.21,456.02 72.31,456.34 72.40,456.65 72.49,456.96 72.59,457.27 72.68,457.57 72.78,457.87 72.87,458.17 72.97,458.46 73.06,458.76 73.16,459.05 73.26,459.33 73.35,459.61 73.45,459.89 73.55,460.17 73.65,460.45 73.75,460.72 73.85,460.99 73.95,461.25 74.05,461.52 74.15,461.78 74.25,462.04 74.35,462.29 74.46,462.55 74.56,462.80 74.66,463.04 74.77,463.29 74.87,463.53 74.98,463.77 75.08,464.01 75.19,464.25 75.29,464.48 75.40,464.71 75.51,464.94 75.61,465.17 75.72,465.40 75.83,465.62 75.94,465.84 76.05,466.06 76.16,466.27 76.27,466.49 76.38,466.70 76.49,466.91 76.60,467.12 76.72,467.32 76.83,467.53 76.94,467.73 77.06,467.93 77.17,468.13 77.28,468.32 77.40,468.52 77.52,468.71 77.63,468.90 77.75,469.09 77.86,469.28 77.98,469.47 78.10,469.65 78.22,469.83 78.34,470.01 78.46,470.19 78.58,470.37 78.70,470.54 78.82,470.72 78.94,470.89 79.06,471.06 79.18,471.23 79.30,471.40 79.43,471.56 79.55,471.73 79.67,471.89 79.80,472.05 79.92,472.21 80.05,472.37 80.18,472.53 80.30,472.69 80.43,472.84 80.56,472.99 80.68,473.15 80.81,473.30 80.94,473.44 81.07,473.59 81.20,473.74 81.33,473.88 81.46,474.03 81.59,474.17 81.72,474.31 81.85,474.45 81.98,474.59 82.12,474.73 82.25,474.87 82.38,475.00 82.52,475.14 82.65,475.27 82.79,475.40 82.92,475.53 83.06,475.66 83.20,475.79 83.33,475.92 83.47,476.04 83.61,476.17 83.75,476.29 83.89,476.42 84.03,476.54 84.16,476.66 84.30,476.78 84.45,476.90 84.59,477.02 84.73,477.13 84.87,477.25 85.01,477.37 85.16,477.48 85.30,477.59 85.44,477.71 85.59,477.82 85.73,477.93 85.88,478.04 86.02,478.15 86.17,478.25 86.32,478.36 86.46,478.47 86.61,478.57 86.76,478.68 86.91,478.78 87.06,478.88 87.21,478.99 87.36,479.09 87.51,479.19 87.66,479.29 87.81,479.39 87.96,479.48 88.11,479.58 88.27,479.68 88.42,479.77 88.57,479.87 88.73,479.96 88.88,480.05 89.04,480.15 89.19,480.24 89.35,480.33 89.50,480.42 89.66,480.51 89.82,480.60 89.98,480.69 90.14,480.78 90.29,480.86 90.45,480.95 90.61,481.04 90.77,481.12 90.93,481.21 91.10,481.29 91.26,481.37 91.42,481.46 91.58,481.54 91.74,481.62 91.91,481.70 92.07,481.78 92.24,481.86 92.40,481.94 92.57,482.02 92.73,482.09 92.90,482.17 93.06,482.25 93.23,482.32 93.40,482.40 93.57,482.47 93.74,482.55 93.91,482.62 94.07,482.70 94.24,482.77 94.42,482.84 94.59,482.91 94.76,482.98 94.93,483.05 95.10,483.12 95.27,483.19 95.45,483.26 95.62,483.33 95.80,483.40 95.97,483.47 96.14,483.53 96.32,483.60 96.50,483.67 96.67,483.73 96.85,483.80 97.03,483.86 97.21,483.93 97.38,483.99 97.56,484.06 97.74,484.12 97.92,484.18 98.10,484.24 98.28,484.31 98.46,484.37 98.64,484.43 98.83,484.49 99.01,484.55 99.19,484.61 99.38,484.67 99.56,484.73 99.74,484.78 99.93,484.84 100.11,484.90 100.30,484.96" fill="none" stroke="#333" stroke-width="1" stroke-linejoin="round"/>
<polyline points="63.10,321.40 63.10,321.41 63.10,321.44 63.10,321.48 63.10,321.55 63.11,321.63 63.11,321.73 63.11,321.85 63.11,321.98 63.12,322.14 63.12,322.31 63.13,322.50 63.13,322.71 63.14,322.93 63.15,323.18 63.15,323.44 63.16,323.71 63.17,324.01 63.18,324.32 63.18,324.64 63.19,324.99 63.20,325.35 63.21,325.72 63.22,326.11 63.23,326.52 63.25,326.94 63.26,327.38 63.27,327.83 63.28,328.30 63.30,328.78 63.31,329.27 63.32,329.78 63.34,330.30 63.35,330.84 63.37,331.38 63.38,331.95 63.40,332.52 63.42,333.10 63.44,333.70 63.45,334.31 63.47,334.92 63.49,335.55 63.51,336.19 63.53,336.84 63.55,337.50 63.57,338.17 63.59,338.85 63.61,339.54 63.64,340.24 63.66,340.94 63.68,341.66 63.70,342.38 63.73,343.11 63.75,343.84 63.78,344.58 63.80,345.33 63.83,346.09 63.86,346.85 63.88,347.61 63.91,348.38 63.94,349.16 63.97,349.94 63.99,350.73 64.02,351.52 64.05,352.31 64.08,353.11 64.11,353.91 64.14,354.72 64.18,355.53 64.21,356.34 64.24,357.15 64.27,357.96 64.31,358.78 64.34,359.60 64.37,360.42 64.41,361.24 64.44,362.06 64.48,362.88 64.51,363.71 64.55,364.53 64.59,365.36 64.63,366.18 64.66,367.00 64.70,367.83 64.74,368.65 64.78,369.47 64.82,370.29 64.86,371.11 64.90,371.93 64.94,372.75 64.98,373.57 65.03,374.38 65.07,375.19 65.11,376.01 65.15,376.81 65.20,377.62 65.24,378.42 65.29,379.23 65.33,380.02 65.38,380.82 65.42,381.61 65.47,382.40 65.52,383.19 65.57,383.98 65.61,384.76 65.66,385.53 65.71,386.31 65.76,387.08 65.81,387.85 65.86,388.61 65.91,389.37 65.96,390.13 66.02,390.88 66.07,391.63 66.12,392.37 66.17,393.11 66.23,393.85 66.28,394.58 66.34,395.31 66.39,396.03 66.45,396.75 66.50,397.47 66.56,398.18 66.62,398.89 66.67,399.59 66.73,400.29 66.79,400.98 66.85,401.67 66.91,402.35 66.97,403.04 67.03,403.71 67.09,404.38 67.15,405.05 67.21,405.71 67.27,406.37 67.34,407.02 67.40,407.67 67.46,408.31 67.53,408.95 67.59,409.59 67.66,410.22 67.72,410.84 67.79,411.46 67.85,412.08 67.92,412.69 67.99,413.30 68.06,413.90 68.12,414.50 68.19,415.10 68.26,415.68 68.33,416.27 68.40,416.85 68.47,417.42 68.54,418.00 68.61,418.56 68.69,419.13 68.76,419.68 68.83,420.24 68.90,420.79 68.98,421.33 69.05,421.87 69.13,422.41 69.20,422.94 69.28,423.47 69.35,423.99 69.43,424.51 69.51,425.02 69.58,425.53 69.66,426.04 69.74,426.54 69.82,427.04 69.90,427.53 69.98,428.02 70.06,428.51 70.14,428.99 70.22,429.47 70.30,429.94 70.38,430.41 70.47,430.88 70.55,431.34 70.63,431.80 70.72,432.26 70.80,432.71 70.89,433.15 70.97,433.60 71.06,434.04 71.14,434.47 71.23,434.90 71.32,435.33 71.41,435.76 71.49,436.18 71.58,436.60 71.67,437.01 71.76,437.42 71.85,437.83 71.94,438.23 72.03,438.63 72.12,439.03 72.21,439.42 72.31,439.81 72.40,440.20 72.49,440.58 72.59,440.96 72.68,441.34 72.78,441.72 72.87,442.09 72.97,442.45 73.06,442.82 73.16,443.18 73.26,443.54 73.35,443.89 73.45,444.25 73.55,444.60 73.65,444.94 73.75,445.29 73.85,445.63 73.95,445.96 74.05,446.30 74.15,446.63 74.25,446.96 74.35,447.29 74.46,447.61 74.56,447.93 74.66,448.25 74.77,448.56 74.87,448.88 74.98,449.19 75.08,449.50 75.19,449.80 75.29,450.10 75.40,450.40 75.51,450.70 75.61,451.00 75.72,451.29 75.83,451.58 75.94,451.87 76.05,452.15 76.16,452.43 76.27,452.71 76.38,452.99 76.49,453.27 76.60,453.54 76.72,453.81 76.83,454.08 76.94,454.35 77.06,454.61 77.17,454.88 77.28,455.14 77.40,455.39 77.52,455.65 77.63,455.90 77.75,456.16 77.86,456.41 77.98,456.65 78.10,456.90 78.22,457.14 78.34,457.38 78.46,457.62 78.58,457.86 78.70,458.10 78.82,458.33 78.94,458.56 79.06,458.79 79.18,459.02 79.30,459.25 79.43,459.47 79.55,459.70 79.67,459.92 79.80,460.14 79.92,460.35 80.05,460.57 80.18,460.78 80.30,461.00 80.43,461.21 80.56,461.42 80.68,461.62 80.81,461.83 80.94,462.03 81.07,462.24 81.20,462.44 81.33,462.64 81.46,462.83 81.59,463.03 81.72,463.22 81.85,463.42 81.98,463.61 82.12,463.80 82.25,463.99 82.38,464.17 82.52,464.36 82.65,464.54 82.79,464.73 82.92,464.91 83.06,465.09 83.20,465.27 83.33,465.44 83.47,465.62 83.61,465.79 83.75,465.97 83.89,466.14 84.03,466.31 84.16,466.48 84.30,466.65 84.45,466.81 84.59,466.98 84.73,467.14 84.87,467.31 85.01,467.47 85.16,467.63 85.30,467.79 85.44,467.95 85.59,468.10 85.73,468.26 85.88,468.41 86.02,468.57 86.17,468.72 86.32,468.87 86.46,469.02 86.61,469.17 86.76,469.32 86.91,469.46 87.06,469.61 87.21,469.75 87.36,469.90 87.51,470.04 87.66,470.18 87.81,470.32 87.96,470.46 88.11,470.60 88.27,470.73 88.42,470.87 88.57,471.01 88.73,471.14 88.88,471.27 89.04,471.41 89.19,471.54 89.35,471.67 89.50,471.80 89.66,471.93 89.82,472.05 89.98,472.18 90.14,472.31 90.29,472.43 90.45,472.56 90.61,472.68 90.77,472.80 90.93,472.92 91.10,473.04 91.26,473.16 91.42,473.28 91.58,473.40 91.74,473.52 91.91,473.63 92.07,473.75 92.24,473.86 92.40,473.98 92.57,474.09 92.73,474.20 92.90,474.32 93.06,474.43 93.23,474.54 93.40,474.65 93.57,474.76 93.74,474.86 93.91,474.97 94.07,475.08 94.24,475.18 94.42,475.29 94.59,475.39 94.76,475.50 94.93,475.60 95.10,475.70 95.27,475.80 95.45,475.90 95.62,476.00 95.80,476.10 95.97,476.20 96.14,476.30 96.32,476.40 96.50,476.49 96.67,476.59 96.85,476.68 97.03,476.78 97.21,476.87 97.38,476.97 97.56,477.06 97.74,477.15 97.92,477.25 98.10,477.34 98.28,477.43 98.46,477.52 98.64,477.61 98.83,477.70 99.01,477.78 99.19,477.87 99.38,477.96 99.56,478.04 99.74,478.13 99.93,478.22 100.11,478.30 100.30,478.39" fill="none" stroke="#333" stroke-width="1" stroke-linejoin="round"/>
<polyline points="63.10,321.40 63.10,321.41 63.10,321.43 63.10,321.46 63.10,321.50 63.11,321.56 63.11,321.63 63.11,321.71 63.11,321.81 63.12,321.92 63.12,322.04 63.13,322.17 63.13,322.32 63.14,322.47 63.15,322.65 63.15,322.83 63.16,323.02 63.17,323.23 63.18,323.45 63.18,323.68 63.19,323.92 63.20,324.18 63.21,324.44 63.22,324.72 63.23,325.01 63.25,325.31 63.26,325.62 63.27,325.94 63.28,326.28 63.30,326.62 63.31,326.97 63.32,327.34 63.34,327.71 63.35,328.10 63.37,328.50 63.38,328.90 63.40,329.32 63.42,329.74 63.44,330.17 63.45,330.62 63.47,331.07 63.49,331.53 63.51,332.00 63.53,332.48 63.55,332.96 63.57,333.46 63.59,333.96 63.61,334.47 63.64,334.99 63.66,335.52 63.68,336.05 63.70,336.59 63.73,337.14 63.75,337.69 63.78,338.25 63.80,338.82 63.83,339.39 63.86,339.97 63.88,340.56 63.91,341.15 63.94,341.74 63.97,342.34 63.99,342.95 64.02,343.56 64.05,344.18 64.08,344.80 64.11,345.43 64.14,346.06 64.18,346.69 64.21,347.33 64.24,347.97 64.27,348.61 64.31,349.26 64.34,349.91 64.37,350.57 64.41,351.23 64.44,351.89 64.48,352.55 64.51,353.21 64.55,353.88 64.59,354.55 64.63,355.22 64.66,355.90 64.70,356.57 64.74,357.25 64.78,357.93 64.82,358.61 64.86,359.29 64.90,359.97 64.94,360.65 64.98,361.34 65.03,362.02 65.07,362.71 65.11,363.39 65.15,364.08 65.20,364.76 65.24,365.45 65.29,366.13 65.33,366.82 65.38,367.50 65.42,368.19 65.47,368.87 65.52,369.55 65.57,370.24 65.61,370.92 65.66,371.60 65.71,372.28 65.76,372.96 65.81,373.64 65.86,374.31 65.91,374.99 65.96,375.66 66.02,376.33 66.07,377.00 66.12,377.67 66.17,378.34 66.23,379.01 66.28,379.67 66.34,380.33 66.39,380.99 66.45,381.65 66.50,382.30 66.56,382.96 66.62,383.61 66.67,384.26 66.73,384.90 66.79,385.55 66.85,386.19 66.91,386.83 66.97,387.46 67.03,388.10 67.09,388.73 67.15,389.36 67.21,389.99 67.27,390.61 67.34,391.23 67.40,391.85 67.46,392.46 67.53,393.08 67.59,393.69 67.66,394.29 67.72,394.90 67.79,395.50 67.85,396.09 67.92,396.69 67.99,397.28 68.06,397.87 68.12,398.46 68.19,399.04 68.26,399.62 68.33,400.19 68.40,400.77 68.47,401.34 68.54,401.91 68.61,402.47 68.69,403.03 68.76,403.59 68.83,404.14 68.90,404.69 68.98,405.24 69.05,405.79 69.13,406.33 69.20,406.87 69.28,407.40 69.35,407.93 69.43,408.46 69.51,408.99 69.58,409.51 69.66,410.03 69.74,410.55 69.82,411.06 69.90,411.57 69.98,412.08 70.06,412.58 70.14,413.08 70.22,413.58 70.30,414.07 70.38,414.56 70.47,415.05 70.55,415.54 70.63,416.02 70.72,416.49 70.80,416.97 70.89,417.44 70.97,417.91 71.06,418.38 71.14,418.84 71.23,419.30 71.32,419.76 71.41,420.21 71.49,420.66 71.58,421.11 71.67,421.55 71.76,421.99 71.85,422.43 71.94,422.87 72.03,423.30 72.12,423.73 72.21,424.16 72.31,424.58 72.40,425.00 72.49,425.42 72.59,425.83 72.68,426.25 72.78,426.65 72.87,427.06 72.97,427.46 73.06,427.87 73.16,428.26 73.26,428.66 73.35,429.05 73.45,429.44 73.55,429.83 73.65,430.21 73.75,430.59 73.85,430.97 73.95,431.35 74.05,431.72 74.15,432.09 74.25,432.46 74.35,432.83 74.46,433.19 74.56,433.55 74.66,433.91 74.77,434.26 74.87,434.62 74.98,434.97 75.08,435.32 75.19,435.66 75.29,436.00 75.40,436.35 75.51,436.68 75.61,437.02 75.72,437.35 75.83,437.68 75.94,438.01 76.05,438.34 76.16,438.66 76.27,438.98 76.38,439.30 76.49,439.62 76.60,439.94 76.72,440.25 76.83,440.56 76.94,440.87 77.06,441.17 77.17,441.48 77.28,441.78 77.40,442.08 77.52,442.38 77.63,442.67 77.75,442.96 77.86,443.26 77.98,443.54 78.10,443.83 78.22,444.12 78.34,444.40 78.46,444.68 78.58,444.96 78.70,445.24 78.82,445.51 78.94,445.78 79.06,446.05 79.18,446.32 79.30,446.59 79.43,446.86 79.55,447.12 79.67,447.38 79.80,447.64 79.92,447.90 80.05,448.15 80.18,448.41 80.30,448.66 80.43,448.91 80.56,449.16 80.68,449.41 80.81,449.65 80.94,449.90 81.07,450.14 81.20,450.38 81.33,450.62 81.46,450.85 81.59,451.09 81.72,451.32 81.85,451.56 81.98,451.79 82.12,452.01 82.25,452.24 82.38,452.47 82.52,452.69 82.65,452.91 82.79,453.13 82.92,453.35 83.06,453.57 83.20,453.79 83.33,454.00 83.47,454.22 83.61,454.43 83.75,454.64 83.89,454.85 84.03,455.05 84.16,455.26 84.30,455.47 84.45,455.67 84.59,455.87 84.73,456.07 84.87,456.27 85.01,456.47 85.16,456.66 85.30,456.86 85.44,457.05 85.59,457.25 85.73,457.44 85.88,457.63 86.02,457.81 86.17,458.00 86.32,458.19 86.46,458.37 86.61,458.56 86.76,458.74 86.91,458.92 87.06,459.10 87.21,459.28 87.36,459.46 87.51,459.63 87.66,459.81 87.81,459.98 87.96,460.15 88.11,460.32 88.27,460.49 88.42,460.66 88.57,460.83 88.73,461.00 88.88,461.16 89.04,461.33 89.19,461.49 89.35,461.66 89.50,461.82 89.66,461.98 89.82,462.14 89.98,462.30 90.14,462.45 90.29,462.61 90.45,462.76 90.61,462.92 90.77,463.07 90.93,463.22 91.10,463.38 91.26,463.53 91.42,463.68 91.58,463.82 91.74,463.97 91.91,464.12 92.07,464.26 92.24,464.41 92.40,464.55 92.57,464.69 92.73,464.84 92.90,464.98 93.06,465.12 93.23,465.26 93.40,465.39 93.57,465.53 93.74,465.67 93.91,465.80 94.07,465.94 94.24,466.07 94.42,466.21 94.59,466.34 94.76,466.47 94.93,466.60 95.10,466.73 95.27,466.86 95.45,466.99 95.62,467.11 95.80,467.24 95.97,467.37 96.14,467.49 96.32,467.61 96.50,467.74 96.67,467.86 96.85,467.98 97.03,468.10 97.21,468.22 97.38,468.34 97.56,468.46 97.74,468.58 97.92,468.70 98.10,468.81 98.28,468.93 98.46,469.04 98.64,469.16 98.83,469.27 99.01,469.39 99.19,469.50 99.38,469.61 99.56,469.72 99.74,469.83 99.93,469.94 100.11,470.05 100.30,470.16" fill="none" stroke="#333" stroke-width="1" stroke-linejoin="round"/>
<polyline points="63.10,321.40 63.10,321.44 63.10,321.55 63.11,321.75 63.12,322.01 63.13,322.36 63.14,322.77 63.16,323.26 63.17,323.83 63.19,324.46 63.22,325.16 63.24,325.93 63.27,326.76 63.30,327.66 63.33,328.62 63.36,329.64 63.40,330.71 63.44,331.84 63.48,333.02 63.52,334.25 63.57,335.52 63.61,336.84 63.66,338.20 63.71,339.59 63.77,341.03 63.83,342.49 63.89,343.99 63.95,345.51 64.01,347.06 64.08,348.63 64.15,350.22 64.22,351.83 64.29,353.45 64.37,355.09 64.44,356.73 64.52,358.39 64.61,360.05 64.69,361.72 64.78,363.39 64.87,365.06 64.96,366.73 65.05,368.40 65.15,370.07 65.25,371.73 65.35,373.38 65.45,375.03 65.56,376.66 65.67,378.29 65.78,379.91 65.89,381.51 66.01,383.10 66.12,384.68 66.24,386.24 66.37,387.79 66.49,389.32 66.62,390.84 66.75,392.34 66.88,393.82 67.01,395.28 67.15,396.73 67.28,398.15 67.43,399.56 67.57,400.95 67.71,402.33 67.86,403.68 68.01,405.01 68.16,406.33 68.32,407.62 68.48,408.90 68.63,410.16 68.80,411.39 68.96,412.61 69.13,413.81 69.29,414.99 69.47,416.15 69.64,417.30 69.81,418.42 69.99,419.53 70.17,420.61 70.36,421.68 70.54,422.74 70.73,423.77 70.92,424.79 71.11,425.79 71.30,426.77 71.50,427.74 71.70,428.69 71.90,429.62 72.10,430.54 72.31,431.44 72.52,432.32 72.73,433.19 72.94,434.05 73.15,434.89 73.37,435.71 73.59,436.52 73.81,437.32 74.04,438.10 74.26,438.87 74.49,439.63 74.72,440.37 74.96,441.10 75.19,441.82 75.43,442.52 75.67,443.22 75.92,443.90 76.16,444.56 76.41,445.22 76.66,445.87 76.91,446.50 77.17,447.12 77.42,447.74 77.68,448.34 77.94,448.93 78.21,449.51 78.47,450.08 78.74,450.64 79.01,451.19 79.29,451.74 79.56,452.27 79.84,452.79 80.12,453.31 80.40,453.82 80.69,454.31 80.97,454.80 81.26,455.28 81.56,455.76 81.85,456.22 82.15,456.68 82.45,457.13 82.75,457.57 83.05,458.01 83.36,458.44 83.66,458.86 83.97,459.27 84.29,459.68 84.60,460.08 84.92,460.48 85.24,460.86 85.56,461.25 85.88,461.62 86.21,461.99 86.54,462.35 86.87,462.71 87.21,463.07 87.54,463.41 87.88,463.75 88.22,464.09 88.56,464.42 88.91,464.75 89.26,465.07 89.61,465.38 89.96,465.69 90.31,466.00 90.67,466.30 91.03,466.60 91.39,466.89 91.75,467.18 92.12,467.46 92.49,467.74 92.86,468.01 93.23,468.29 93.61,468.55 93.99,468.82 94.37,469.07 94.75,469.33 95.13,469.58 95.52,469.83 95.91,470.07 96.30,470.31 96.70,470.55 97.09,470.78 97.49,471.02 97.89,471.24 98.30,471.47 98.70,471.69 99.11,471.90 99.52,472.12 99.93,472.33 100.35,472.54 100.77,472.75 101.18,472.95 101.61,473.15 102.03,473.35 102.46,473.54 102.89,473.73 103.32,473.92 103.75,474.11 104.19,474.29 104.63,474.47 105.07,474.65 105.51,474.83 105.95,475.00 106.40,475.18 106.85,475.35 107.30,475.51 107.76,475.68 108.22,475.84 108.67,476.00 109.14,476.16 109.60,476.32 110.07,476.48 110.53,476.63 111.01,476.78 111.48,476.93 111.95,477.08 112.43,477.22 112.91,477.37 113.39,477.51 113.88,477.65 114.37,477.79 114.86,477.92 115.35,478.06 115.84,478.19 116.34,478.32 116.84,478.45 117.34,478.58 117.84,478.71 118.35,478.83 118.85,478.95 119.37,479.08 119.88,479.20 120.39,479.32 120.91,479.43 121.43,479.55 121.95,479.67 122.48,479.78 123.00,479.89 123.53,480.00 124.06,480.11 124.60,480.22 125.13,480.33 125.67,480.43 126.21,480.54 126.75,480.64 127.30,480.75 127.85,480.85 128.40,480.95 128.95,481.05 129.50,481.14 130.06,481.24 130.62,481.34 131.18,481.43 131.74,481.52 132.31,481.62 132.88,481.71 133.45,481.80 134.02,481.89 134.60,481.98 135.18,482.06 135.76,482.15 136.34,482.24 136.92,482.32 137.51,482.40 138.10,482.49 138.69,482.57 139.29,482.65 139.88,482.73 140.48,482.81 141.08,482.89 141.69,482.96 142.29,483.04 142.90,483.12 143.51,483.19 144.12,483.27 144.74,483.34 145.35,483.41 145.97,483.49 146.60,483.56 147.22,483.63 147.85,483.70 148.48,483.77 149.11,483.84 149.74,483.90 150.38,483.97 151.01,484.04 151.65,484.10 152.30,484.17 152.94,484.23 153.59,484.30 154.24,484.36 154.89,484.42 155.55,484.48 156.20,484.55 156.86,484.61 157.52,484.67 158.19,484.73 158.85,484.79 159.52,484.84 160.19,484.90 160.87,484.96 161.54,485.02 162.22,485.07 162.90,485.13 163.58,485.18 164.27,485.24 164.95,485.29 165.64,485.35 166.33,485.40 167.03,485.45 167.72,485.50 168.42,485.55 169.12,485.61 169.83,485.66 170.53,485.71 171.24,485.76 171.95,485.81 172.66,485.85 173.38,485.90 174.10,485.95 174.82,486.00 175.54,486.05 176.26,486.09 176.99,486.14 177.72,486.18 178.45,486.23 179.18,486.27 179.92,486.32 180.66,486.36 181.40,486.41 182.14,486.45 182.89,486.49 183.63,486.54 184.38,486.58 185.13,486.62 185.89,486.66 186.65,486.70 187.40,486.74 188.17,486.79 188.93,486.83 189.70,486.86 190.46,486.90 191.24,486.94 192.01,486.98 192.78,487.02 193.56,487.06 194.34,487.10 195.12,487.13 195.91,487.17 196.70,487.21 197.48,487.24 198.28,487.28 199.07,487.32 199.87,487.35 200.67,487.39 201.47,487.42 202.27,487.46 203.08,487.49 203.88,487.53 204.69,487.56 205.51,487.59 206.32,487.63 207.14,487.66 207.96,487.69 208.78,487.73 209.60,487.76 210.43,487.79 211.26,487.82 212.09,487.85 212.92,487.88 213.76,487.92 214.60,487.95 215.44,487.98 216.28,488.01 217.13,488.04 217.97,488.07 218.82,488.10 219.68,488.13 220.53,488.16 221.39,488.18 222.25,488.21 223.11,488.24 223.97,488.27 224.84,488.30 225.71,488.33 226.58,488.35 227.45,488.38 228.32,488.41 229.20,488.43 230.08,488.46 230.96,488.49 231.85,488.51 232.74,488.54 233.63,488.57 234.52,488.59 235.41,488.62 236.31,488.64 237.21,488.67 238.11,488.69 239.01,488.72 239.92,488.74 240.82,488.77 241.73,488.79 242.65,488.82 243.56,488.84 244.48,488.86 245.40,488.89 246.32,488.91 247.24,488.93 248.17,488.96 249.10,488.98" fill="none" stroke="#333" stroke-width="1" stroke-linejoin="round"/>
<polyline points="63.10,321.40 63.10,321.42 63.10,321.49 63.11,321.60 63.12,321.76 63.13,321.96 63.14,322.20 63.16,322.49 63.17,322.82 63.19,323.20 63.22,323.61 63.24,324.07 63.27,324.57 63.30,325.11 63.33,325.69 63.36,326.30 63.40,326.96 63.44,327.65 63.48,328.37 63.52,329.13 63.57,329.93 63.61,330.75 63.66,331.61 63.71,332.50 63.77,333.42 63.83,334.36 63.89,335.34 63.95,336.33 64.01,337.36 64.08,338.40 64.15,339.47 64.22,340.56 64.29,341.67 64.37,342.79 64.44,343.94 64.52,345.10 64.61,346.27 64.69,347.46 64.78,348.66 64.87,349.88 64.96,351.10 65.05,352.34 65.15,353.58 65.25,354.83 65.35,356.08 65.45,357.35 65.56,358.61 65.67,359.88 65.78,361.16 65.89,362.43 66.01,363.71 66.12,364.98 66.24,366.26 66.37,367.54 66.49,368.81 66.62,370.08 66.75,371.35 66.88,372.61 67.01,373.87 67.15,375.13 67.28,376.38 67.43,377.63 67.57,378.86 67.71,380.10 67.86,381.32 68.01,382.54 68.16,383.75 68.32,384.95 68.48,386.14 68.63,387.33 68.80,388.50 68.96,389.67 69.13,390.82 69.29,391.97 69.47,393.11 69.64,394.23 69.81,395.35 69.99,396.45 70.17,397.55 70.36,398.63 70.54,399.71 70.73,400.77 70.92,401.82 71.11,402.86 71.30,403.89 71.50,404.91 71.70,405.91 71.90,406.91 72.10,407.89 72.31,408.87 72.52,409.83 72.73,410.78 72.94,411.72 73.15,412.65 73.37,413.56 73.59,414.47 73.81,415.37 74.04,416.25 74.26,417.12 74.49,417.99 74.72,418.84 74.96,419.68 75.19,420.51 75.43,421.33 75.67,422.14 75.92,422.94 76.16,423.73 76.41,424.51 76.66,425.28 76.91,426.03 77.17,426.78 77.42,427.52 77.68,428.25 77.94,428.97 78.21,429.68 78.47,430.38 78.74,431.08 79.01,431.76 79.29,432.43 79.56,433.10 79.84,433.75 80.12,434.40 80.40,435.04 80.69,435.67 80.97,436.29 81.26,436.90 81.56,437.51 81.85,438.10 82.15,438.69 82.45,439.27 82.75,439.85 83.05,440.41 83.36,440.97 83.66,441.52 83.97,442.06 84.29,442.60 84.60,443.13 84.92,443.65 85.24,444.16 85.56,444.67 85.88,445.17 86.21,445.67 86.54,446.16 86.87,446.64 87.21,447.11 87.54,447.58 87.88,448.04 88.22,448.50 88.56,448.95 88.91,449.39 89.26,449.83 89.61,450.27 89.96,450.69 90.31,451.12 90.67,451.53 91.03,451.94 91.39,452.35 91.75,452.75 92.12,453.14 92.49,453.53 92.86,453.92 93.23,454.30 93.61,454.67 93.99,455.04 94.37,455.41 94.75,455.77 95.13,456.12 95.52,456.48 95.91,456.82 96.30,457.17 96.70,457.50 97.09,457.84 97.49,458.17 97.89,458.49 98.30,458.81 98.70,459.13 99.11,459.45 99.52,459.76 99.93,460.06 100.35,460.36 100.77,460.66 101.18,460.96 101.61,461.25 102.03,461.53 102.46,461.82 102.89,462.10 103.32,462.38 103.75,462.65 104.19,462.92 104.63,463.19 105.07,463.45 105.51,463.71 105.95,463.97 106.40,464.22 106.85,464.48 107.30,464.72 107.76,464.97 108.22,465.21 108.67,465.45 109.14,465.69 109.60,465.92 110.07,466.15 110.53,466.38 111.01,466.61 111.48,466.83 111.95,467.05 112.43,467.27 112.91,467.49 113.39,467.70 113.88,467.91 114.37,468.12 114.86,468.33 115.35,468.53 115.84,468.73 116.34,468.93 116.84,469.13 117.34,469.32 117.84,469.52 118.35,469.71 118.85,469.89 119.37,470.08 119.88,470.26 120.39,470.45 120.91,470.63 121.43,470.80 121.95,470.98 122.48,471.15 123.00,471.33 123.53,471.50 124.06,471.67 124.60,471.83 125.13,472.00 125.67,472.16 126.21,472.32 126.75,472.48 127.30,472.64 127.85,472.80 128.40,472.95 128.95,473.10 129.50,473.25 130.06,473.40 130.62,473.55 131.18,473.70 131.74,473.84 132.31,473.99 132.88,474.13 133.45,474.27 134.02,474.41 134.60,474.55 135.18,474.68 135.76,474.82 136.34,474.95 136.92,475.09 137.51,475.22 138.10,475.35 138.69,475.47 139.29,475.60 139.88,475.73 140.48,475.85 141.08,475.97 141.69,476.10 142.29,476.22 142.90,476.34 143.51,476.46 144.12,476.57 144.74,476.69 145.35,476.80 145.97,476.92 146.60,477.03 147.22,477.14 147.85,477.25 148.48,477.36 149.11,477.47 149.74,477.58 150.38,477.68 151.01,477.79 151.65,477.89 152.30,478.00 152.94,478.10 153.59,478.20 154.24,478.30 154.89,478.40 155.55,478.50 156.20,478.60 156.86,478.69 157.52,478.79 158.19,478.89 158.85,478.98 159.52,479.07 160.19,479.17 160.87,479.26 161.54,479.35 162.22,479.44 162.90,479.53 163.58,479.61 164.27,479.70 164.95,479.79 165.64,479.87 166.33,479.96 167.03,480.04 167.72,480.13 168.42,480.21 169.12,480.29 169.83,480.37 170.53,480.45 171.24,480.53 171.95,480.61 172.66,480.69 173.38,480.77 174.10,480.85 174.82,480.92 175.54,481.00 176.26,481.07 176.99,481.15 177.72,481.22 178.45,481.30 179.18,481.37 179.92,481.44 180.66,481.51 181.40,481.58 182.14,481.65 182.89,481.72 183.63,481.79 184.38,481.86 185.13,481.93 185.89,482.00 186.65,482.06 187.40,482.13 188.17,482.19 188.93,482.26 189.70,482.32 190.46,482.39 191.24,482.45 192.01,482.51 192.78,482.58 193.56,482.64 194.34,482.70 195.12,482.76 195.91,482.82 196.70,482.88 197.48,482.94 198.28,483.00 199.07,483.06 199.87,483.12 200.67,483.17 201.47,483.23 202.27,483.29 203.08,483.34 203.88,483.40 204.69,483.45 205.51,483.51 206.32,483.56 207.14,483.62 207.96,483.67 208.78,483.72 209.60,483.78 210.43,483.83 211.26,483.88 212.09,483.93 212.92,483.98 213.76,484.03 214.60,484.08 215.44,484.13 216.28,484.18 217.13,484.23 217.97,484.28 218.82,484.33 219.68,484.38 220.53,484.43 221.39,484.47 222.25,484.52 223.11,484.57 223.97,484.61 224.84,484.66 225.71,484.71 226.58,484.75 227.45,484.80 228.32,484.84 229.20,484.88 230.08,484.93 230.96,484.97 231.85,485.02 232.74,485.06 233.63,485.10 234.52,485.14 235.41,485.19 236.31,485.23 237.21,485.27 238.11,485.31 239.01,485.35 239.92,485.39 240.82,485.43 241.73,485.47 242.65,485.51 243.56,485.55 244.48,485.59 245.40,485.63 246.32,485.67 247.24,485.71 248.17,485.74 249.10,485.78" fill="none" stroke="#333" stroke-width="1" stroke-linejoin="round"/>
<polyline points="63.10,321.40 63.10,321.42 63.10,321.47 63.11,321.56 63.12,321.69 63.13,321.85 63.14,322.04 63.16,322.27 63.17,322.54 63.19,322.84 63.22,323.18 63.24,323.54 63.27,323.95 63.30,324.38 63.33,324.85 63.36,325.35 63.40,325.87 63.44,326.43 63.48,327.02 63.52,327.64 63.57,328.29 63.61,328.97 63.66,329.67 63.71,330.40 63.77,331.15 63.83,331.93 63.89,332.73 63.95,333.56 64.01,334.41 64.08,335.28 64.15,336.17 64.22,337.08 64.29,338.00 64.37,338.95 64.44,339.91 64.52,340.89 64.61,341.89 64.69,342.90 64.78,343.92 64.87,344.96 64.96,346.01 65.05,347.07 65.15,348.14 65.25,349.22 65.35,350.31 65.45,351.41 65.56,352.51 65.67,353.63 65.78,354.74 65.89,355.87 66.01,356.99 66.12,358.12 66.24,359.26 66.37,360.40 66.49,361.54 66.62,362.68 66.75,363.82 66.88,364.96 67.01,366.10 67.15,367.24 67.28,368.38 67.43,369.52 67.57,370.66 67.71,371.79 67.86,372.92 68.01,374.05 68.16,375.17 68.32,376.29 68.48,377.40 68.63,378.51 68.80,379.62 68.96,380.71 69.13,381.81 69.29,382.89 69.47,383.97 69.64,385.05 69.81,386.11 69.99,387.17 70.17,388.23 70.36,389.27 70.54,390.31 70.73,391.34 70.92,392.36 71.11,393.37 71.30,394.38 71.50,395.38 71.70,396.37 71.90,397.35 72.10,398.32 72.31,399.28 72.52,400.24 72.73,401.18 72.94,402.12 73.15,403.05 73.37,403.97 73.59,404.88 73.81,405.78 74.04,406.67 74.26,407.55 74.49,408.43 74.72,409.29 74.96,410.15 75.19,411.00 75.43,411.84 75.67,412.67 75.92,413.49 76.16,414.30 76.41,415.10 76.66,415.90 76.91,416.68 77.17,417.46 77.42,418.23 77.68,418.99 77.94,419.74 78.21,420.48 78.47,421.22 78.74,421.94 79.01,422.66 79.29,423.37 79.56,424.07 79.84,424.76 80.12,425.45 80.40,426.13 80.69,426.79 80.97,427.46 81.26,428.11 81.56,428.76 81.85,429.39 82.15,430.02 82.45,430.65 82.75,431.26 83.05,431.87 83.36,432.47 83.66,433.07 83.97,433.66 84.29,434.24 84.60,434.81 84.92,435.38 85.24,435.94 85.56,436.49 85.88,437.03 86.21,437.57 86.54,438.11 86.87,438.63 87.21,439.16 87.54,439.67 87.88,440.18 88.22,440.68 88.56,441.18 88.91,441.67 89.26,442.15 89.61,442.63 89.96,443.10 90.31,443.57 90.67,444.03 91.03,444.49 91.39,444.94 91.75,445.38 92.12,445.82 92.49,446.26 92.86,446.69 93.23,447.11 93.61,447.53 93.99,447.95 94.37,448.36 94.75,448.76 95.13,449.16 95.52,449.56 95.91,449.95 96.30,450.33 96.70,450.72 97.09,451.09 97.49,451.47 97.89,451.83 98.30,452.20 98.70,452.56 99.11,452.91 99.52,453.27 99.93,453.61 100.35,453.96 100.77,454.30 101.18,454.63 101.61,454.96 102.03,455.29 102.46,455.61 102.89,455.94 103.32,456.25 103.75,456.57 104.19,456.87 104.63,457.18 105.07,457.48 105.51,457.78 105.95,458.08 106.40,458.37 106.85,458.66 107.30,458.95 107.76,459.23 108.22,459.51 108.67,459.79 109.14,460.06 109.60,460.33 110.07,460.60 110.53,460.86 111.01,461.12 111.48,461.38 111.95,461.64 112.43,461.89 112.91,462.14 113.39,462.39 113.88,462.63 114.37,462.87 114.86,463.11 115.35,463.35 115.84,463.59 116.34,463.82 116.84,464.05 117.34,464.27 117.84,464.50 118.35,464.72 118.85,464.94 119.37,465.16 119.88,465.37 120.39,465.59 120.91,465.80 121.43,466.01 121.95,466.21 122.48,466.42 123.00,466.62 123.53,466.82 124.06,467.02 124.60,467.21 125.13,467.40 125.67,467.60 126.21,467.79 126.75,467.97 127.30,468.16 127.85,468.34 128.40,468.53 128.95,468.71 129.50,468.89 130.06,469.06 130.62,469.24 131.18,469.41 131.74,469.58 132.31,469.75 132.88,469.92 133.45,470.09 134.02,470.25 134.60,470.41 135.18,470.57 135.76,470.73 136.34,470.89 136.92,471.05 137.51,471.20 138.10,471.36 138.69,471.51 139.29,471.66 139.88,471.81 140.48,471.96 141.08,472.10 141.69,472.25 142.29,472.39 142.90,472.54 143.51,472.68 144.12,472.82 144.74,472.95 145.35,473.09 145.97,473.23 146.60,473.36 147.22,473.49 147.85,473.63 148.48,473.76 149.11,473.89 149.74,474.01 150.38,474.14 151.01,474.27 151.65,474.39 152.30,474.51 152.94,474.64 153.59,474.76 154.24,474.88 154.89,475.00 155.55,475.12 156.20,475.23 156.86,475.35 157.52,475.46 158.19,475.58 158.85,475.69 159.52,475.80 160.19,475.91 160.87,476.02 161.54,476.13 162.22,476.24 162.90,476.35 163.58,476.45 164.27,476.56 164.95,476.66 165.64,476.76 166.33,476.87 167.03,476.97 167.72,477.07 168.42,477.17 169.12,477.27 169.83,477.36 170.53,477.46 171.24,477.56 171.95,477.65 172.66,477.75 173.38,477.84 174.10,477.93 174.82,478.03 175.54,478.12 176.26,478.21 176.99,478.30 177.72,478.39 178.45,478.48 179.18,478.56 179.92,478.65 180.66,478.74 181.40,478.82 182.14,478.91 182.89,478.99 183.63,479.07 184.38,479.16 185.13,479.24 185.89,479.32 186.65,479.40 187.40,479.48 188.17,479.56 188.93,479.64 189.70,479.72 190.46,479.79 191.24,479.87 192.01,479.95 192.78,480.02 193.56,480.10 194.34,480.17 195.12,480.24 195.91,480.32 196.70,480.39 197.48,480.46 198.28,480.53 199.07,480.61 199.87,480.68 200.67,480.75 201.47,480.81 202.27,480.88 203.08,480.95 203.88,481.02 204.69,481.09 205.51,481.15 206.32,481.22 207.14,481.28 207.96,481.35 208.78,481.41 209.60,481.48 210.43,481.54 211.26,481.60 212.09,481.67 212.92,481.73 213.76,481.79 214.60,481.85 215.44,481.91 216.28,481.97 217.13,482.03 217.97,482.09 218.82,482.15 219.68,482.21 220.53,482.27 221.39,482.33 222.25,482.38 223.11,482.44 223.97,482.50 224.84,482.55 225.71,482.61 226.58,482.66 227.45,482.72 228.32,482.77 229.20,482.83 230.08,482.88 230.96,482.93 231.85,482.99 232.74,483.04 233.63,483.09 234.52,483.14 235.41,483.19 236.31,483.24 237.21,483.29 238.11,483.34 239.01,483.39 239.92,483.44 240.82,483.49 241.73,483.54 242.65,483.59 243.56,483.64 244.48,483.69 245.40,483.73 246.32,483.78 247.24,483.83 248.17,483.87 249.10,483.92" fill="none" stroke="#333" stroke-width="1" stroke-linejoin="round"/>
<polyline points="63.10,321.40 63.10,321.41 63.10,321.46 63.11,321.53 63.12,321.63 63.13,321.75 63.14,321.91 63.16,322.09 63.17,322.30 63.19,322.54 63.22,322.81 63.24,323.10 63.27,323.42 63.30,323.76 63.33,324.13 63.36,324.53 63.40,324.95 63.44,325.40 63.48,325.87 63.52,326.37 63.57,326.89 63.61,327.43 63.66,327.99 63.71,328.58 63.77,329.19 63.83,329.82 63.89,330.47 63.95,331.14 64.01,331.83 64.08,332.54 64.15,333.27 64.22,334.02 64.29,334.78 64.37,335.56 64.44,336.36 64.52,337.17 64.61,337.99 64.69,338.83 64.78,339.69 64.87,340.55 64.96,341.43 65.05,342.32 65.15,343.22 65.25,344.14 65.35,345.06 65.45,345.99 65.56,346.93 65.67,347.88 65.78,348.84 65.89,349.81 66.01,350.78 66.12,351.76 66.24,352.74 66.37,353.73 66.49,354.72 66.62,355.72 66.75,356.72 66.88,357.72 67.01,358.73 67.15,359.74 67.28,360.75 67.43,361.76 67.57,362.78 67.71,363.79 67.86,364.81 68.01,365.82 68.16,366.84 68.32,367.85 68.48,368.86 68.63,369.87 68.80,370.88 68.96,371.89 69.13,372.89 69.29,373.89 69.47,374.89 69.64,375.89 69.81,376.88 69.99,377.87 70.17,378.85 70.36,379.83 70.54,380.80 70.73,381.77 70.92,382.74 71.11,383.70 71.30,384.66 71.50,385.61 71.70,386.55 71.90,387.49 72.10,388.43 72.31,389.35 72.52,390.27 72.73,391.19 72.94,392.10 73.15,393.00 73.37,393.90 73.59,394.79 73.81,395.67 74.04,396.55 74.26,397.42 74.49,398.28 74.72,399.14 74.96,399.99 75.19,400.83 75.43,401.67 75.67,402.50 75.92,403.32 76.16,404.13 76.41,404.94 76.66,405.74 76.91,406.54 77.17,407.32 77.42,408.10 77.68,408.87 77.94,409.64 78.21,410.40 78.47,411.15 78.74,411.89 79.01,412.63 79.29,413.36 79.56,414.08 79.84,414.80 80.12,415.51 80.40,416.21 80.69,416.91 80.97,417.60 81.26,418.28 81.56,418.95 81.85,419.62 82.15,420.28 82.45,420.94 82.75,421.59 83.05,422.23 83.36,422.86 83.66,423.49 83.97,424.11 84.29,424.73 84.60,425.34 84.92,425.94 85.24,426.54 85.56,427.13 85.88,427.71 86.21,428.29 86.54,428.86 86.87,429.43 87.21,429.99 87.54,430.55 87.88,431.10 88.22,431.64 88.56,432.18 88.91,432.71 89.26,433.23 89.61,433.75 89.96,434.27 90.31,434.78 90.67,435.28 91.03,435.78 91.39,436.27 91.75,436.76 92.12,437.24 92.49,437.72 92.86,438.19 93.23,438.66 93.61,439.12 93.99,439.58 94.37,440.04 94.75,440.48 95.13,440.93 95.52,441.37 95.91,441.80 96.30,442.23 96.70,442.65 97.09,443.07 97.49,443.49 97.89,443.90 98.30,444.31 98.70,444.71 99.11,445.11 99.52,445.50 99.93,445.89 100.35,446.28 100.77,446.66 101.18,447.04 101.61,447.41 102.03,447.78 102.46,448.15 102.89,448.51 103.32,448.87 103.75,449.22 104.19,449.57 104.63,449.92 105.07,450.26 105.51,450.60 105.95,450.94 106.40,451.27 106.85,451.60 107.30,451.93 107.76,452.25 108.22,452.57 108.67,452.89 109.14,453.20 109.60,453.51 110.07,453.82 110.53,454.12 111.01,454.42 111.48,454.72 111.95,455.01 112.43,455.30 112.91,455.59 113.39,455.88 113.88,456.16 114.37,456.44 114.86,456.71 115.35,456.99 115.84,457.26 116.34,457.53 116.84,457.79 117.34,458.06 117.84,458.32 118.35,458.57 118.85,458.83 119.37,459.08 119.88,459.33 120.39,459.58 120.91,459.82 121.43,460.07 121.95,460.31 122.48,460.54 123.00,460.78 123.53,461.01 124.06,461.24 124.60,461.47 125.13,461.70 125.67,461.92 126.21,462.15 126.75,462.37 127.30,462.58 127.85,462.80 128.40,463.01 128.95,463.23 129.50,463.44 130.06,463.64 130.62,463.85 131.18,464.05 131.74,464.25 132.31,464.45 132.88,464.65 133.45,464.85 134.02,465.04 134.60,465.23 135.18,465.42 135.76,465.61 136.34,465.80 136.92,465.99 137.51,466.17 138.10,466.35 138.69,466.53 139.29,466.71 139.88,466.89 140.48,467.06 141.08,467.24 141.69,467.41 142.29,467.58 142.90,467.75 143.51,467.91 144.12,468.08 144.74,468.24 145.35,468.41 145.97,468.57 146.60,468.73 147.22,468.89 147.85,469.04 148.48,469.20 149.11,469.35 149.74,469.51 150.38,469.66 151.01,469.81 151.65,469.96 152.30,470.11 152.94,470.25 153.59,470.40 154.24,470.54 154.89,470.68 155.55,470.82 156.20,470.96 156.86,471.10 157.52,471.24 158.19,471.38 158.85,471.51 159.52,471.65 160.19,471.78 160.87,471.91 161.54,472.04 162.22,472.17 162.90,472.30 163.58,472.43 164.27,472.55 164.95,472.68 165.64,472.80 166.33,472.92 167.03,473.05 167.72,473.17 168.42,473.29 169.12,473.41 169.83,473.52 170.53,473.64 171.24,473.76 171.95,473.87 172.66,473.99 173.38,474.10 174.10,474.21 174.82,474.32 175.54,474.43 176.26,474.54 176.99,474.65 177.72,474.76 178.45,474.86 179.18,474.97 179.92,475.08 180.66,475.18 181.40,475.28 182.14,475.39 182.89,475.49 183.63,475.59 184.38,475.69 185.13,475.79 185.89,475.89 186.65,475.98 187.40,476.08 188.17,476.18 188.93,476.27 189.70,476.37 190.46,476.46 191.24,476.56 192.01,476.65 192.78,476.74 193.56,476.83 194.34,476.92 195.12,477.01 195.91,477.10 196.70,477.19 197.48,477.28 198.28,477.36 199.07,477.45 199.87,477.53 200.67,477.62 201.47,477.70 202.27,477.79 203.08,477.87 203.88,477.95 204.69,478.03 205.51,478.12 206.32,478.20 207.14,478.28 207.96,478.36 208.78,478.43 209.60,478.51 210.43,478.59 211.26,478.67 212.09,478.74 212.92,478.82 213.76,478.89 214.60,478.97 215.44,479.04 216.28,479.12 217.13,479.19 217.97,479.26 218.82,479.34 219.68,479.41 220.53,479.48 221.39,479.55 222.25,479.62 223.11,479.69 223.97,479.76 224.84,479.83 225.71,479.89 226.58,479.96 227.45,480.03 228.32,480.09 229.20,480.16 230.08,480.23 230.96,480.29 231.85,480.36 232.74,480.42 233.63,480.48 234.52,480.55 235.41,480.61 236.31,480.67 237.21,480.74 238.11,480.80 239.01,480.86 239.92,480.92 240.82,480.98 241.73,481.04 242.65,481.10 243.56,481.16 244.48,481.22 245.40,481.27 246.32,481.33 247.24,481.39 248.17,481.45 249.10,481.50" fill="none" stroke="#333" stroke-width="1" stroke-linejoin="round"/>
<line x1="63.10" y1="316.40" x2="63.10" y2="326.40" stroke="#333" stroke-width="0.8"/>
<line x1="60.60" y1="316.40" x2="65.60" y2="316.40" stroke="#666" stroke-width="0.8"/>
<line x1="60.60" y1="326.40" x2="65.60" y2="326.40" stroke="#666" stroke-width="0.8"/>
<line x1="63.47" y1="348.30" x2="63.47" y2="358.30" stroke="#333" stroke-width="0.8"/>
<line x1="60.97" y1="348.30" x2="65.97" y2="348.30" stroke="#666" stroke-width="0.8"/>
<line x1="60.97" y1="358.30" x2="65.97" y2="358.30" stroke="#666" stroke-width="0.8"/>
<line x1="64.03" y1="379.07" x2="64.03" y2="389.07" stroke="#333" stroke-width="0.8"/>
<line x1="61.53" y1="379.07" x2="66.53" y2="379.07" stroke="#666" stroke-width="0.8"/>
<line x1="61.53" y1="389.07" x2="66.53" y2="389.07" stroke="#666" stroke-width="0.8"/>
<line x1="64.96" y1="408.75" x2="64.96" y2="418.75" stroke="#333" stroke-width="0.8"/>
<line x1="62.46" y1="408.75" x2="67.46" y2="408.75" stroke="#666" stroke-width="0.8"/>
<line x1="62.46" y1="418.75" x2="67.46" y2="418.75" stroke="#666" stroke-width="0.8"/>
<line x1="66.82" y1="437.41" x2="66.82" y2="447.41" stroke="#333" stroke-width="0.8"/>
<line x1="64.32" y1="437.41" x2="69.32" y2="437.41" stroke="#666" stroke-width="0.8"/>
<line x1="64.32" y1="447.41" x2="69.32" y2="447.41" stroke="#666" stroke-width="0.8"/>
<line x1="72.40" y1="465.10" x2="72.40" y2="475.10" stroke="#333" stroke-width="0.8"/>
<line x1="69.90" y1="465.10" x2="74.90" y2="465.10" stroke="#666" stroke-width="0.8"/>
<line x1="69.90" y1="475.10" x2="74.90" y2="475.10" stroke="#666" stroke-width="0.8"/>
<line x1="81.70" y1="477.38" x2="81.70" y2="487.38" stroke="#333" stroke-width="0.8"/>
<line x1="79.20" y1="477.38" x2="84.20" y2="477.38" stroke="#666" stroke-width="0.8"/>
<line x1="79.20" y1="487.38" x2="84.20" y2="487.38" stroke="#666" stroke-width="0.8"/>
<line x1="100.30" y1="484.31" x2="100.30" y2="494.31" stroke="#333" stroke-width="0.8"/>
<line x1="97.80" y1="484.31" x2="102.80" y2="484.31" stroke="#666" stroke-width="0.8"/>
<line x1="97.80" y1="494.31" x2="102.80" y2="494.31" stroke="#666" stroke-width="0.8"/>
<line x1="63.10" y1="316.40" x2="63.10" y2="326.40" stroke="#333" stroke-width="0.8"/>
<line x1="60.60" y1="316.40" x2="65.60" y2="316.40" stroke="#666" stroke-width="0.8"/>
<line x1="60.60" y1="326.40" x2="65.60" y2="326.40" stroke="#666" stroke-width="0.8"/>
<line x1="63.47" y1="337.09" x2="63.47" y2="347.09" stroke="#333" stroke-width="0.8"/>
<line x1="60.97" y1="337.09" x2="65.97" y2="337.09" stroke="#666" stroke-width="0.8"/>
<line x1="60.97" y1="347.09" x2="65.97" y2="347.09" stroke="#666" stroke-width="0.8"/>
<line x1="64.03" y1="360.36" x2="64.03" y2="370.36" stroke="#333" stroke-width="0.8"/>
<line x1="61.53" y1="360.36" x2="66.53" y2="360.36" stroke="#666" stroke-width="0.8"/>
<line x1="61.53" y1="370.36" x2="66.53" y2="370.36" stroke="#666" stroke-width="0.8"/>
<line x1="64.96" y1="386.73" x2="64.96" y2="396.73" stroke="#333" stroke-width="0.8"/>
<line x1="62.46" y1="386.73" x2="67.46" y2="386.73" stroke="#666" stroke-width="0.8"/>
<line x1="62.46" y1="396.73" x2="67.46" y2="396.73" stroke="#666" stroke-width="0.8"/>
<line x1="66.82" y1="416.87" x2="66.82" y2="426.87" stroke="#333" stroke-width="0.8"/>
<line x1="64.32" y1="416.87" x2="69.32" y2="416.87" stroke="#666" stroke-width="0.8"/>
<line x1="64.32" y1="426.87" x2="69.32" y2="426.87" stroke="#666" stroke-width="0.8"/>
<line x1="72.40" y1="451.65" x2="72.40" y2="461.65" stroke="#333" stroke-width="0.8"/>
<line x1="69.90" y1="451.65" x2="74.90" y2="451.65" stroke="#666" stroke-width="0.8"/>
<line x1="69.90" y1="461.65" x2="74.90" y2="461.65" stroke="#666" stroke-width="0.8"/>
<line x1="81.70" y1="469.29" x2="81.70" y2="479.29" stroke="#333" stroke-width="0.8"/>
<line x1="79.20" y1="469.29" x2="84.20" y2="469.29" stroke="#666" stroke-width="0.8"/>
<line x1="79.20" y1="479.29" x2="84.20" y2="479.29" stroke="#666" stroke-width="0.8"/>
<line x1="100.30" y1="479.96" x2="100.30" y2="489.96" stroke="#333" stroke-width="0.8"/>
<line x1="97.80" y1="479.96" x2="102.80" y2="479.96" stroke="#666" stroke-width="0.8"/>
<line x1="97.80" y1="489.96" x2="102.80" y2="489.96" stroke="#666" stroke-width="0.8"/>
<line x1="63.10" y1="316.40" x2="63.10" y2="326.40" stroke="#333" stroke-width="0.8"/>
<line x1="60.60" y1="316.40" x2="65.60" y2="316.40" stroke="#666" stroke-width="0.8"/>
<line x1="60.60" y1="326.40" x2="65.60" y2="326.40" stroke="#666" stroke-width="0.8"/>
<line x1="63.47" y1="329.92" x2="63.47" y2="339.92" stroke="#333" stroke-width="0.8"/>
<line x1="60.97" y1="329.92" x2="65.97" y2="329.92" stroke="#666" stroke-width="0.8"/>
<line x1="60.97" y1="339.92" x2="65.97" y2="339.92" stroke="#666" stroke-width="0.8"/>
<line x1="64.03" y1="346.71" x2="64.03" y2="356.71" stroke="#333" stroke-width="0.8"/>
<line x1="61.53" y1="346.71" x2="66.53" y2="346.71" stroke="#666" stroke-width="0.8"/>
<line x1="61.53" y1="356.71" x2="66.53" y2="356.71" stroke="#666" stroke-width="0.8"/>
<line x1="64.96" y1="368.11" x2="64.96" y2="378.11" stroke="#333" stroke-width="0.8"/>
<line x1="62.46" y1="368.11" x2="67.46" y2="368.11" stroke="#666" stroke-width="0.8"/>
<line x1="62.46" y1="378.11" x2="67.46" y2="378.11" stroke="#666" stroke-width="0.8"/>
<line x1="66.82" y1="396.32" x2="66.82" y2="406.32" stroke="#333" stroke-width="0.8"/>
<line x1="64.32" y1="396.32" x2="69.32" y2="396.32" stroke="#666" stroke-width="0.8"/>
<line x1="64.32" y1="406.32" x2="69.32" y2="406.32" stroke="#666" stroke-width="0.8"/>
<line x1="72.40" y1="435.20" x2="72.40" y2="445.20" stroke="#333" stroke-width="0.8"/>
<line x1="69.90" y1="435.20" x2="74.90" y2="435.20" stroke="#666" stroke-width="0.8"/>
<line x1="69.90" y1="445.20" x2="74.90" y2="445.20" stroke="#666" stroke-width="0.8"/>
<line x1="81.70" y1="458.19" x2="81.70" y2="468.19" stroke="#333" stroke-width="0.8"/>
<line x1="79.20" y1="458.19" x2="84.20" y2="458.19" stroke="#666" stroke-width="0.8"/>
<line x1="79.20" y1="468.19" x2="84.20" y2="468.19" stroke="#666" stroke-width="0.8"/>
<line x1="100.30" y1="473.39" x2="100.30" y2="483.39" stroke="#333" stroke-width="0.8"/>
<line x1="97.80" y1="473.39" x2="102.80" y2="473.39" stroke="#666" stroke-width="0.8"/>
<line x1="97.80" y1="483.39" x2="102.80" y2="483.39" stroke="#666" stroke-width="0.8"/>
<line x1="63.10" y1="316.40" x2="63.10" y2="326.40" stroke="#333" stroke-width="0.8"/>
<line x1="60.60" y1="316.40" x2="65.60" y2="316.40" stroke="#666" stroke-width="0.8"/>
<line x1="60.60" y1="326.40" x2="65.60" y2="326.40" stroke="#666" stroke-width="0.8"/>
<line x1="63.47" y1="326.07" x2="63.47" y2="336.07" stroke="#333" stroke-width="0.8"/>
<line x1="60.97" y1="326.07" x2="65.97" y2="326.07" stroke="#666" stroke-width="0.8"/>
<line x1="60.97" y1="336.07" x2="65.97" y2="336.07" stroke="#666" stroke-width="0.8"/>
<line x1="64.03" y1="338.71" x2="64.03" y2="348.71" stroke="#333" stroke-width="0.8"/>
<line x1="61.53" y1="338.71" x2="66.53" y2="338.71" stroke="#666" stroke-width="0.8"/>
<line x1="61.53" y1="348.71" x2="66.53" y2="348.71" stroke="#666" stroke-width="0.8"/>
<line x1="64.96" y1="355.96" x2="64.96" y2="365.96" stroke="#333" stroke-width="0.8"/>
<line x1="62.46" y1="355.96" x2="67.46" y2="355.96" stroke="#666" stroke-width="0.8"/>
<line x1="62.46" y1="365.96" x2="67.46" y2="365.96" stroke="#666" stroke-width="0.8"/>
<line x1="66.82" y1="380.86" x2="66.82" y2="390.86" stroke="#333" stroke-width="0.8"/>
<line x1="64.32" y1="380.86" x2="69.32" y2="380.86" stroke="#666" stroke-width="0.8"/>
<line x1="64.32" y1="390.86" x2="69.32" y2="390.86" stroke="#666" stroke-width="0.8"/>
<line x1="72.40" y1="420.00" x2="72.40" y2="430.00" stroke="#333" stroke-width="0.8"/>
<line x1="69.90" y1="420.00" x2="74.90" y2="420.00" stroke="#666" stroke-width="0.8"/>
<line x1="69.90" y1="430.00" x2="74.90" y2="430.00" stroke="#666" stroke-width="0.8"/>
<line x1="81.70" y1="446.29" x2="81.70" y2="456.29" stroke="#333" stroke-width="0.8"/>
<line x1="79.20" y1="446.29" x2="84.20" y2="446.29" stroke="#666" stroke-width="0.8"/>
<line x1="79.20" y1="456.29" x2="84.20" y2="456.29" stroke="#666" stroke-width="0.8"/>
<line x1="100.30" y1="465.16" x2="100.30" y2="475.16" stroke="#333" stroke-width="0.8"/>
<line x1="97.80" y1="465.16" x2="102.80" y2="465.16" stroke="#666" stroke-width="0.8"/>
<line x1="97.80" y1="475.16" x2="102.80" y2="475.16" stroke="#666" stroke-width="0.8"/>
<line x1="63.10" y1="316.40" x2="63.10" y2="326.40" stroke="#333" stroke-width="0.8"/>
<line x1="60.60" y1="316.40" x2="65.60" y2="316.40" stroke="#666" stroke-width="0.8"/>
<line x1="60.60" y1="326.40" x2="65.60" y2="326.40" stroke="#666" stroke-width="0.8"/>
<line x1="63.47" y1="327.88" x2="63.47" y2="337.88" stroke="#333" stroke-width="0.8"/>
<line x1="60.97" y1="327.88" x2="65.97" y2="327.88" stroke="#666" stroke-width="0.8"/>
<line x1="60.97" y1="337.88" x2="65.97" y2="337.88" stroke="#666" stroke-width="0.8"/>
<line x1="64.03" y1="342.50" x2="64.03" y2="352.50" stroke="#333" stroke-width="0.8"/>
<line x1="61.53" y1="342.50" x2="66.53" y2="342.50" stroke="#666" stroke-width="0.8"/>
<line x1="61.53" y1="352.50" x2="66.53" y2="352.50" stroke="#666" stroke-width="0.8"/>
<line x1="64.96" y1="361.73" x2="64.96" y2="371.73" stroke="#333" stroke-width="0.8"/>
<line x1="62.46" y1="361.73" x2="67.46" y2="361.73" stroke="#666" stroke-width="0.8"/>
<line x1="62.46" y1="371.73" x2="67.46" y2="371.73" stroke="#666" stroke-width="0.8"/>
<line x1="66.82" y1="388.18" x2="66.82" y2="398.18" stroke="#333" stroke-width="0.8"/>
<line x1="64.32" y1="388.18" x2="69.32" y2="388.18" stroke="#666" stroke-width="0.8"/>
<line x1="64.32" y1="398.18" x2="69.32" y2="398.18" stroke="#666" stroke-width="0.8"/>
<line x1="72.40" y1="426.83" x2="72.40" y2="436.83" stroke="#333" stroke-width="0.8"/>
<line x1="69.90" y1="426.83" x2="74.90" y2="426.83" stroke="#666" stroke-width="0.8"/>
<line x1="69.90" y1="436.83" x2="74.90" y2="436.83" stroke="#666" stroke-width="0.8"/>
<line x1="81.70" y1="450.99" x2="81.70" y2="460.99" stroke="#333" stroke-width="0.8"/>
<line x1="79.20" y1="450.99" x2="84.20" y2="450.99" stroke="#666" stroke-width="0.8"/>
<line x1="79.20" y1="460.99" x2="84.20" y2="460.99" stroke="#666" stroke-width="0.8"/>
<line x1="100.30" y1="467.52" x2="100.30" y2="477.52" stroke="#333" stroke-width="0.8"/>
<line x1="97.80" y1="467.52" x2="102.80" y2="467.52" stroke="#666" stroke-width="0.8"/>
<line x1="97.80" y1="477.52" x2="102.80" y2="477.52" stroke="#666" stroke-width="0.8"/>
<line x1="156.10" y1="479.54" x2="156.10" y2="489.54" stroke="#333" stroke-width="0.8"/>
<line x1="153.60" y1="479.54" x2="158.60" y2="479.54" stroke="#666" stroke-width="0.8"/>
<line x1="153.60" y1="489.54" x2="158.60" y2="489.54" stroke="#666" stroke-width="0.8"/>
<line x1="249.10" y1="483.98" x2="249.10" y2="493.98" stroke="#333" stroke-width="0.8"/>
<line x1="246.60" y1="483.98" x2="251.60" y2="483.98" stroke="#666" stroke-width="0.8"/>
<line x1="246.60" y1="493.98" x2="251.60" y2="493.98" stroke="#666" stroke-width="0.8"/>
<line x1="63.10" y1="316.40" x2="63.10" y2="326.40" stroke="#333" stroke-width="0.8"/>
<line x1="60.60" y1="316.40" x2="65.60" y2="316.40" stroke="#666" stroke-width="0.8"/>
<line x1="60.60" y1="326.40" x2="65.60" y2="326.40" stroke="#666" stroke-width="0.8"/>
<line x1="63.47" y1="323.29" x2="63.47" y2="333.29" stroke="#333" stroke-width="0.8"/>
<line x1="60.97" y1="323.29" x2="65.97" y2="323.29" stroke="#666" stroke-width="0.8"/>
<line x1="60.97" y1="333.29" x2="65.97" y2="333.29" stroke="#666" stroke-width="0.8"/>
<line x1="64.03" y1="332.65" x2="64.03" y2="342.65" stroke="#333" stroke-width="0.8"/>
<line x1="61.53" y1="332.65" x2="66.53" y2="332.65" stroke="#666" stroke-width="0.8"/>
<line x1="61.53" y1="342.65" x2="66.53" y2="342.65" stroke="#666" stroke-width="0.8"/>
<line x1="64.96" y1="346.10" x2="64.96" y2="356.10" stroke="#333" stroke-width="0.8"/>
<line x1="62.46" y1="346.10" x2="67.46" y2="346.10" stroke="#666" stroke-width="0.8"/>
<line x1="62.46" y1="356.10" x2="67.46" y2="356.10" stroke="#666" stroke-width="0.8"/>
<line x1="66.82" y1="367.07" x2="66.82" y2="377.07" stroke="#333" stroke-width="0.8"/>
<line x1="64.32" y1="367.07" x2="69.32" y2="367.07" stroke="#666" stroke-width="0.8"/>
<line x1="64.32" y1="377.07" x2="69.32" y2="377.07" stroke="#666" stroke-width="0.8"/>
<line x1="72.40" y1="404.29" x2="72.40" y2="414.29" stroke="#333" stroke-width="0.8"/>
<line x1="69.90" y1="404.29" x2="74.90" y2="404.29" stroke="#666" stroke-width="0.8"/>
<line x1="69.90" y1="414.29" x2="74.90" y2="414.29" stroke="#666" stroke-width="0.8"/>
<line x1="81.70" y1="432.80" x2="81.70" y2="442.80" stroke="#333" stroke-width="0.8"/>
<line x1="79.20" y1="432.80" x2="84.20" y2="432.80" stroke="#666" stroke-width="0.8"/>
<line x1="79.20" y1="442.80" x2="84.20" y2="442.80" stroke="#666" stroke-width="0.8"/>
<line x1="100.30" y1="455.33" x2="100.30" y2="465.33" stroke="#333" stroke-width="0.8"/>
<line x1="97.80" y1="455.33" x2="102.80" y2="455.33" stroke="#666" stroke-width="0.8"/>
<line x1="97.80" y1="465.33" x2="102.80" y2="465.33" stroke="#666" stroke-width="0.8"/>
<line x1="156.10" y1="473.58" x2="156.10" y2="483.58" stroke="#333" stroke-width="0.8"/>
<line x1="153.60" y1="473.58" x2="158.60" y2="473.58" stroke="#666" stroke-width="0.8"/>
<line x1="153.60" y1="483.58" x2="158.60" y2="483.58" stroke="#666" stroke-width="0.8"/>
<line x1="249.10" y1="480.78" x2="249.10" y2="490.78" stroke="#333" stroke-width="0.8"/>
<line x1="246.60" y1="480.78" x2="251.60" y2="480.78" stroke="#666" stroke-width="0.8"/>
<line x1="246.60" y1="490.78" x2="251.60" y2="490.78" stroke="#666" stroke-width="0.8"/>
<line x1="63.10" y1="316.40" x2="63.10" y2="326.40" stroke="#333" stroke-width="0.8"/>
<line x1="60.60" y1="316.40" x2="65.60" y2="316.40" stroke="#666" stroke-width="0.8"/>
<line x1="60.60" y1="326.40" x2="65.60" y2="326.40" stroke="#666" stroke-width="0.8"/>
<line x1="63.47" y1="321.96" x2="63.47" y2="331.96" stroke="#333" stroke-width="0.8"/>
<line x1="60.97" y1="321.96" x2="65.97" y2="321.96" stroke="#666" stroke-width="0.8"/>
<line x1="60.97" y1="331.96" x2="65.97" y2="331.96" stroke="#666" stroke-width="0.8"/>
<line x1="64.03" y1="329.65" x2="64.03" y2="339.65" stroke="#333" stroke-width="0.8"/>
<line x1="61.53" y1="329.65" x2="66.53" y2="329.65" stroke="#666" stroke-width="0.8"/>
<line x1="61.53" y1="339.65" x2="66.53" y2="339.65" stroke="#666" stroke-width="0.8"/>
<line x1="64.96" y1="341.01" x2="64.96" y2="351.01" stroke="#333" stroke-width="0.8"/>
<line x1="62.46" y1="341.01" x2="67.46" y2="341.01" stroke="#666" stroke-width="0.8"/>
<line x1="62.46" y1="351.01" x2="67.46" y2="351.01" stroke="#666" stroke-width="0.8"/>
<line x1="66.82" y1="359.47" x2="66.82" y2="369.47" stroke="#333" stroke-width="0.8"/>
<line x1="64.32" y1="359.47" x2="69.32" y2="359.47" stroke="#666" stroke-width="0.8"/>
<line x1="64.32" y1="369.47" x2="69.32" y2="369.47" stroke="#666" stroke-width="0.8"/>
<line x1="72.40" y1="394.71" x2="72.40" y2="404.71" stroke="#333" stroke-width="0.8"/>
<line x1="69.90" y1="394.71" x2="74.90" y2="394.71" stroke="#666" stroke-width="0.8"/>
<line x1="69.90" y1="404.71" x2="74.90" y2="404.71" stroke="#666" stroke-width="0.8"/>
<line x1="81.70" y1="424.07" x2="81.70" y2="434.07" stroke="#333" stroke-width="0.8"/>
<line x1="79.20" y1="424.07" x2="84.20" y2="424.07" stroke="#666" stroke-width="0.8"/>
<line x1="79.20" y1="434.07" x2="84.20" y2="434.07" stroke="#666" stroke-width="0.8"/>
<line x1="100.30" y1="448.92" x2="100.30" y2="458.92" stroke="#333" stroke-width="0.8"/>
<line x1="97.80" y1="448.92" x2="102.80" y2="448.92" stroke="#666" stroke-width="0.8"/>
<line x1="97.80" y1="458.92" x2="102.80" y2="458.92" stroke="#666" stroke-width="0.8"/>
<line x1="156.10" y1="470.21" x2="156.10" y2="480.21" stroke="#333" stroke-width="0.8"/>
<line x1="153.60" y1="470.21" x2="158.60" y2="470.21" stroke="#666" stroke-width="0.8"/>
<line x1="153.60" y1="480.21" x2="158.60" y2="480.21" stroke="#666" stroke-width="0.8"/>
<line x1="249.10" y1="478.92" x2="249.10" y2="488.92" stroke="#333" stroke-width="0.8"/>
<line x1="246.60" y1="478.92" x2="251.60" y2="478.92" stroke="#666" stroke-width="0.8"/>
<line x1="246.60" y1="488.92" x2="251.60" y2="488.92" stroke="#666" stroke-width="0.8"/>
<line x1="63.10" y1="316.40" x2="63.10" y2="326.40" stroke="#333" stroke-width="0.8"/>
<line x1="60.60" y1="316.40" x2="65.60" y2="316.40" stroke="#666" stroke-width="0.8"/>
<line x1="60.60" y1="326.40" x2="65.60" y2="326.40" stroke="#666" stroke-width="0.8"/>
<line x1="63.47" y1="320.82" x2="63.47" y2="330.82" stroke="#333" stroke-width="0.8"/>
<line x1="60.97" y1="320.82" x2="65.97" y2="320.82" stroke="#666" stroke-width="0.8"/>
<line x1="60.97" y1="330.82" x2="65.97" y2="330.82" stroke="#666" stroke-width="0.8"/>
<line x1="64.03" y1="327.03" x2="64.03" y2="337.03" stroke="#333" stroke-width="0.8"/>
<line x1="61.53" y1="327.03" x2="66.53" y2="327.03" stroke="#666" stroke-width="0.8"/>
<line x1="61.53" y1="337.03" x2="66.53" y2="337.03" stroke="#666" stroke-width="0.8"/>
<line x1="64.96" y1="336.43" x2="64.96" y2="346.43" stroke="#333" stroke-width="0.8"/>
<line x1="62.46" y1="336.43" x2="67.46" y2="336.43" stroke="#666" stroke-width="0.8"/>
<line x1="62.46" y1="346.43" x2="67.46" y2="346.43" stroke="#666" stroke-width="0.8"/>
<line x1="66.82" y1="352.29" x2="66.82" y2="362.29" stroke="#333" stroke-width="0.8"/>
<line x1="64.32" y1="352.29" x2="69.32" y2="352.29" stroke="#666" stroke-width="0.8"/>
<line x1="64.32" y1="362.29" x2="69.32" y2="362.29" stroke="#666" stroke-width="0.8"/>
<line x1="72.40" y1="384.76" x2="72.40" y2="394.76" stroke="#333" stroke-width="0.8"/>
<line x1="69.90" y1="384.76" x2="74.90" y2="384.76" stroke="#666" stroke-width="0.8"/>
<line x1="69.90" y1="394.76" x2="74.90" y2="394.76" stroke="#666" stroke-width="0.8"/>
<line x1="81.70" y1="414.28" x2="81.70" y2="424.28" stroke="#333" stroke-width="0.8"/>
<line x1="79.20" y1="414.28" x2="84.20" y2="414.28" stroke="#666" stroke-width="0.8"/>
<line x1="79.20" y1="424.28" x2="84.20" y2="424.28" stroke="#666" stroke-width="0.8"/>
<line x1="100.30" y1="441.23" x2="100.30" y2="451.23" stroke="#333" stroke-width="0.8"/>
<line x1="97.80" y1="441.23" x2="102.80" y2="441.23" stroke="#666" stroke-width="0.8"/>
<line x1="97.80" y1="451.23" x2="102.80" y2="451.23" stroke="#666" stroke-width="0.8"/>
<line x1="156.10" y1="465.94" x2="156.10" y2="475.94" stroke="#333" stroke-width="0.8"/>
<line x1="153.60" y1="465.94" x2="158.60" y2="465.94" stroke="#666" stroke-width="0.8"/>
<line x1="153.60" y1="475.94" x2="158.60" y2="475.94" stroke="#666" stroke-width="0.8"/>
<line x1="249.10" y1="476.50" x2="249.10" y2="486.50" stroke="#333" stroke-width="0.8"/>
<line x1="246.60" y1="476.50" x2="251.60" y2="476.50" stroke="#666" stroke-width="0.8"/>
<line x1="246.60" y1="486.50" x2="251.60" y2="486.50" stroke="#666" stroke-width="0.8"/>
<circle cx="63.10" cy="321.40" r="3.10" fill="#fff" stroke="#000" stroke-width="1"/>
<circle cx="63.47" cy="332.88" r="3.10" fill="#fff" stroke="#000" stroke-width="1"/>
<circle cx="64.03" cy="347.50" r="3.10" fill="#fff" stroke="#000" stroke-width="1"/>
<circle cx="64.96" cy="366.73" r="3.10" fill="#fff" stroke="#000" stroke-width="1"/>
<circle cx="66.82" cy="393.18" r="3.10" fill="#fff" stroke="#000" stroke-width="1"/>
<circle cx="72.40" cy="431.83" r="3.10" fill="#fff" stroke="#000" stroke-width="1"/>
<circle cx="81.70" cy="455.99" r="3.10" fill="#fff" stroke="#000" stroke-width="1"/>
<circle cx="100.30" cy="472.52" r="3.10" fill="#fff" stroke="#000" stroke-width="1"/>
<circle cx="156.10" cy="484.54" r="3.10" fill="#fff" stroke="#000" stroke-width="1"/>
<circle cx="249.10" cy="488.98" r="3.10" fill="#fff" stroke="#000" stroke-width="1"/>
<rect x="60.30" y="318.60" width="5.60" height="5.60" fill="#fff" stroke="#000" stroke-width="1"/>
<rect x="60.67" y="325.49" width="5.60" height="5.60" fill="#fff" stroke="#000" stroke-width="1"/>
<rect x="61.23" y="334.85" width="5.60" height="5.60" fill="#fff" stroke="#000" stroke-width="1"/>
<rect x="62.16" y="348.30" width="5.60" height="5.60" fill="#fff" stroke="#000" stroke-width="1"/>
<rect x="64.02" y="369.27" width="5.60" height="5.60" fill="#fff" stroke="#000" stroke-width="1"/>
<rect x="69.60" y="406.49" width="5.60" height="5.60" fill="#fff" stroke="#000" stroke-width="1"/>
<rect x="78.90" y="435.00" width="5.60" height="5.60" fill="#fff" stroke="#000" stroke-width="1"/>
<rect x="97.50" y="457.53" width="5.60" height="5.60" fill="#fff" stroke="#000" stroke-width="1"/>
<rect x="153.30" y="475.78" width="5.60" height="5.60" fill="#fff" stroke="#000" stroke-width="1"/>
<rect x="246.30" y="482.98" width="5.60" height="5.60" fill="#fff" stroke="#000" stroke-width="1"/>
<polygon points="63.10,317.40 67.10,324.10 59.10,324.10" fill="#fff" stroke="#000" stroke-width="1"/>
<polygon points="63.47,322.96 67.47,329.66 59.47,329.66" fill="#fff" stroke="#000" stroke-width="1"/>
<polygon points="64.03,330.65 68.03,337.35 60.03,337.35" fill="#fff" stroke="#000" stroke-width="1"/>
<polygon points="64.96,342.01 68.96,348.71 60.96,348.71" fill="#fff" stroke="#000" stroke-width="1"/>
<polygon points="66.82,360.47 70.82,367.17 62.82,367.17" fill="#fff" stroke="#000" stroke-width="1"/>
<polygon points="72.40,395.71 76.40,402.41 68.40,402.41" fill="#fff" stroke="#000" stroke-width="1"/>
<polygon points="81.70,425.07 85.70,431.77 77.70,431.77" fill="#fff" stroke="#000" stroke-width="1"/>
<polygon points="100.30,449.92 104.30,456.62 96.30,456.62" fill="#fff" stroke="#000" stroke-width="1"/>
<polygon points="156.10,471.21 160.10,477.91 152.10,477.91" fill="#fff" stroke="#000" stroke-width="1"/>
<polygon points="249.10,479.92 253.10,486.62 245.10,486.62" fill="#fff" stroke="#000" stroke-width="1"/>
<polygon points="63.10,325.40 67.10,318.70 59.10,318.70" fill="#fff" stroke="#000" stroke-width="1"/>
<polygon points="63.47,329.82 67.47,323.12 59.47,323.12" fill="#fff" stroke="#000" stroke-width="1"/>
<polygon points="64.03,336.03 68.03,329.33 60.03,329.33" fill="#fff" stroke="#000" stroke-width="1"/>
<polygon points="64.96,345.43 68.96,338.73 60.96,338.73" fill="#fff" stroke="#000" stroke-width="1"/>
<polygon points="66.82,361.29 70.82,354.59 62.82,354.59" fill="#fff" stroke="#000" stroke-width="1"/>
<polygon points="72.40,393.76 76.40,387.06 68.40,387.06" fill="#fff" stroke="#000" stroke-width="1"/>
<polygon points="81.70,423.28 85.70,416.58 77.70,416.58" fill="#fff" stroke="#000" stroke-width="1"/>
<polygon points="100.30,450.23 104.30,443.53 96.30,443.53" fill="#fff" stroke="#000" stroke-width="1"/>
<polygon points="156.10,474.94 160.10,468.24 152.10,468.24" fill="#fff" stroke="#000" stroke-width="1"/>
<polygon points="249.10,485.50 253.10,478.80 245.10,478.80" fill="#fff" stroke="#000" stroke-width="1"/>
<circle cx="63.10" cy="321.40" r="3.60" fill="#000"/>
<circle cx="63.47" cy="353.30" r="3.60" fill="#000"/>
<circle cx="64.03" cy="384.07" r="3.60" fill="#000"/>
<circle cx="64.96" cy="413.75" r="3.60" fill="#000"/>
<circle cx="66.82" cy="442.41" r="3.60" fill="#000"/>
<circle cx="72.40" cy="470.10" r="3.60" fill="#000"/>
<circle cx="81.70" cy="482.38" r="3.60" fill="#000"/>
<circle cx="100.30" cy="489.31" r="3.60" fill="#000"/>
<rect x="59.80" y="318.10" width="6.60" height="6.60" fill="#000"/>
<rect x="60.17" y="338.79" width="6.60" height="6.60" fill="#000"/>
<rect x="60.73" y="362.06" width="6.60" height="6.60" fill="#000"/>
<rect x="61.66" y="388.43" width="6.60" height="6.60" fill="#000"/>
<rect x="63.52" y="418.57" width="6.60" height="6.60" fill="#000"/>
<rect x="69.10" y="453.35" width="6.60" height="6.60" fill="#000"/>
<rect x="78.40" y="470.99" width="6.60" height="6.60" fill="#000"/>
<rect x="97.00" y="481.66" width="6.60" height="6.60" fill="#000"/>
<polygon points="63.10,317.40 67.10,324.10 59.10,324.10" fill="#000" stroke="#000" stroke-width="0"/>
<polygon points="63.47,330.92 67.47,337.62 59.47,337.62" fill="#000" stroke="#000" stroke-width="0"/>
<polygon points="64.03,347.71 68.03,354.41 60.03,354.41" fill="#000" stroke="#000" stroke-width="0"/>
<polygon points="64.96,369.11 68.96,375.81 60.96,375.81" fill="#000" stroke="#000" stroke-width="0"/>
<polygon points="66.82,397.32 70.82,404.02 62.82,404.02" fill="#000" stroke="#000" stroke-width="0"/>
<polygon points="72.40,436.20 76.40,442.90 68.40,442.90" fill="#000" stroke="#000" stroke-width="0"/>
<polygon points="81.70,459.19 85.70,465.89 77.70,465.89" fill="#000" stroke="#000" stroke-width="0"/>
<polygon points="100.30,474.39 104.30,481.09 96.30,481.09" fill="#000" stroke="#000" stroke-width="0"/>
<polygon points="63.10,325.40 67.10,318.70 59.10,318.70" fill="#000" stroke="#000" stroke-width="0"/>
<polygon points="63.47,335.07 67.47,328.37 59.47,328.37" fill="#000" stroke="#000" stroke-width="0"/>
<polygon points="64.03,347.71 68.03,341.01 60.03,341.01" fill="#000" stroke="#000" stroke-width="0"/>
<polygon points="64.96,364.96 68.96,358.26 60.96,358.26" fill="#000" stroke="#000" stroke-width="0"/>
<polygon points="66.82,389.86 70.82,383.16 62.82,383.16" fill="#000" stroke="#000" stroke-width="0"/>
<polygon points="72.40,429.00 76.40,422.30 68.40,422.30" fill="#000" stroke="#000" stroke-width="0"/>
<polygon points="81.70,455.29 85.70,448.59 77.70,448.59" fill="#000" stroke="#000" stroke-width="0"/>
<polygon points="100.30,474.16 104.30,467.46 96.30,467.46" fill="#000" stroke="#000" stroke-width="0"/>
<rect x="147.50" y="322.50" width="97.20" height="97.80" fill="none" stroke="#6a6a6a" stroke-width="1"/>
<line x1="141.20" y1="416.00" x2="147.50" y2="416.00" stroke="#6a6a6a" stroke-width="1"/>
<text x="137.20" y="418.60" font-family='"Liberation Sans", sans-serif' font-size="7" text-anchor="end" font-weight="bold" font-style="normal" fill="#111">0.00</text>
<line x1="141.20" y1="393.65" x2="147.50" y2="393.65" stroke="#6a6a6a" stroke-width="1"/>
<text x="137.20" y="396.25" font-family='"Liberation Sans", sans-serif' font-size="7" text-anchor="end" font-weight="bold" font-style="normal" fill="#111">0.25</text>
<line x1="141.20" y1="371.30" x2="147.50" y2="371.30" stroke="#6a6a6a" stroke-width="1"/>
<text x="137.20" y="373.90" font-family='"Liberation Sans", sans-serif' font-size="7" text-anchor="end" font-weight="bold" font-style="normal" fill="#111">0.50</text>
<line x1="141.20" y1="348.95" x2="147.50" y2="348.95" stroke="#6a6a6a" stroke-width="1"/>
<text x="137.20" y="351.55" font-family='"Liberation Sans", sans-serif' font-size="7" text-anchor="end" font-weight="bold" font-style="normal" fill="#111">0.75</text>
<line x1="141.20" y1="326.60" x2="147.50" y2="326.60" stroke="#6a6a6a" stroke-width="1"/>
<text x="137.20" y="329.20" font-family='"Liberation Sans", sans-serif' font-size="7" text-anchor="end" font-weight="bold" font-style="normal" fill="#111">1.00</text>
<line x1="149.30" y1="420.30" x2="149.30" y2="427.00" stroke="#6a6a6a" stroke-width="1"/>
<text x="149.30" y="436.30" font-family='"Liberation Sans", sans-serif' font-size="7" text-anchor="middle" font-weight="bold" font-style="normal" fill="#111">0</text>
<line x1="195.40" y1="420.30" x2="195.40" y2="427.00" stroke="#6a6a6a" stroke-width="1"/>
<text x="195.40" y="436.30" font-family='"Liberation Sans", sans-serif' font-size="7" text-anchor="middle" font-weight="bold" font-style="normal" fill="#111">2500</text>
<line x1="241.50" y1="420.30" x2="241.50" y2="427.00" stroke="#6a6a6a" stroke-width="1"/>
<text x="241.50" y="436.30" font-family='"Liberation Sans", sans-serif' font-size="7" text-anchor="middle" font-weight="bold" font-style="normal" fill="#111">5000</text>
<text x="197.20" y="451.20" font-family='"Liberation Serif", serif' font-size="10.7" text-anchor="middle" font-weight="bold" font-style="normal" fill="#111">TFPI (pM)</text>
<text x="119.00" y="370.20" font-family='"Liberation Serif", serif' font-size="10.7" text-anchor="middle" font-weight="bold" font-style="normal" fill="#111" transform="rotate(-90 119.00 370.20)">Vs/Vo</text>
<text x="215.00" y="337.00" font-family='"Liberation Serif", serif' font-size="12" text-anchor="start" font-weight="normal" font-style="normal" fill="#111">TFPI</text>
<polyline points="149.30,326.60 149.35,327.14 149.42,327.83 149.49,328.65 149.58,329.58 149.67,330.57 149.78,331.60 149.88,332.64 149.99,333.67 150.11,334.64 150.22,335.54 150.34,336.36 150.45,337.15 150.57,337.91 150.70,338.65 150.83,339.40 150.96,340.15 151.11,340.94 151.26,341.76 151.43,342.64 151.61,343.59 151.79,344.59 151.97,345.65 152.16,346.74 152.35,347.87 152.56,349.03 152.78,350.23 153.02,351.44 153.29,352.68 153.58,353.94 153.91,355.21 154.24,356.49 154.54,357.79 154.83,359.12 155.15,360.46 155.49,361.83 155.90,363.22 156.39,364.64 156.97,366.09 157.68,367.56 158.52,369.06 159.49,370.63 160.55,372.28 161.70,373.98 162.95,375.72 164.28,377.47 165.71,379.21 167.23,380.92 168.85,382.57 170.55,384.14 172.35,385.60 174.18,386.99 176.00,388.31 177.86,389.59 179.80,390.82 181.86,392.00 184.08,393.14 186.50,394.22 189.17,395.27 192.12,396.27 195.40,397.23 199.28,398.15 203.88,399.06 208.99,399.93 214.39,400.75 219.89,401.53 225.27,402.25 230.33,402.90 234.86,403.48 238.65,403.97 241.50,404.38" fill="none" stroke="#222" stroke-width="1" stroke-linejoin="round"/>
<polyline points="149.30,326.60 149.35,327.14 149.42,327.83 149.49,328.65 149.58,329.58 149.67,330.57 149.78,331.60 149.88,332.64 149.99,333.67 150.11,334.64 150.22,335.54 150.34,336.36 150.45,337.15 150.57,337.91 150.70,338.65 150.83,339.40 150.96,340.15 151.11,340.94 151.26,341.76 151.43,342.64 151.61,343.59 151.79,344.59 151.97,345.65 152.16,346.74 152.35,347.87 152.56,349.03 152.78,350.23 153.02,351.44 153.29,352.68 153.58,353.94 153.91,355.21 154.24,356.49 154.54,357.78 154.83,359.09 155.15,360.42 155.49,361.77 155.90,363.16 156.39,364.57 156.97,366.03 157.68,367.52 158.52,369.06 159.49,370.69 160.55,372.42 161.70,374.22 162.95,376.06 164.28,377.92 165.71,379.77 167.23,381.58 168.85,383.33 170.55,384.97 172.35,386.50 174.18,387.91 176.00,389.24 177.86,390.50 179.80,391.69 181.86,392.84 184.08,393.94 186.50,395.01 189.17,396.06 192.12,397.09 195.40,398.12 199.28,399.16 203.88,400.22 208.99,401.28 214.39,402.32 219.89,403.32 225.27,404.26 230.33,405.12 234.86,405.89 238.65,406.54 241.50,407.06" fill="none" stroke="#222" stroke-width="1" stroke-linejoin="round"/>
<polyline points="149.30,326.60 149.35,327.14 149.42,327.83 149.49,328.65 149.58,329.58 149.67,330.57 149.78,331.60 149.88,332.64 149.99,333.67 150.11,334.64 150.22,335.54 150.34,336.36 150.45,337.15 150.57,337.91 150.70,338.65 150.83,339.40 150.96,340.15 151.11,340.94 151.26,341.76 151.43,342.64 151.61,343.59 151.79,344.59 151.97,345.65 152.16,346.74 152.35,347.87 152.56,349.03 152.78,350.23 153.02,351.44 153.29,352.68 153.58,353.94 153.91,355.21 154.24,356.48 154.54,357.76 154.83,359.05 155.15,360.37 155.49,361.71 155.90,363.08 156.39,364.50 156.97,365.96 157.68,367.48 158.52,369.06 159.49,370.76 160.55,372.58 161.70,374.50 162.95,376.47 164.28,378.47 165.71,380.45 167.23,382.39 168.85,384.25 170.55,385.99 172.35,387.57 174.18,389.00 176.00,390.32 177.86,391.53 179.80,392.67 181.86,393.75 184.08,394.80 186.50,395.82 189.17,396.86 192.12,397.91 195.40,399.01 199.28,400.19 203.88,401.44 208.99,402.74 214.39,404.04 219.89,405.32 225.27,406.54 230.33,407.67 234.86,408.67 238.65,409.53 241.50,410.19" fill="none" stroke="#222" stroke-width="1" stroke-linejoin="round"/>
<polygon points="149.30,329.80 152.50,324.50 146.10,324.50" fill="#000" stroke="#000" stroke-width="0"/>
<polygon points="150.22,338.74 153.42,333.44 147.02,333.44" fill="#000" stroke="#000" stroke-width="0"/>
<polygon points="151.61,346.79 154.81,341.49 148.41,341.49" fill="#000" stroke="#000" stroke-width="0"/>
<polygon points="153.91,358.41 157.11,353.11 150.71,353.11" fill="#000" stroke="#000" stroke-width="0"/>
<polygon points="158.52,372.26 161.72,366.96 155.32,366.96" fill="#000" stroke="#000" stroke-width="0"/>
<polygon points="172.35,390.77 175.55,385.47 169.15,385.47" fill="#000" stroke="#000" stroke-width="0"/>
<polygon points="195.40,402.21 198.60,396.91 192.20,396.91" fill="#000" stroke="#000" stroke-width="0"/>
<polygon points="241.50,413.39 244.70,408.09 238.30,408.09" fill="#000" stroke="#000" stroke-width="0"/>
<rect x="147.52" y="332.84" width="5.40" height="5.40" fill="#000"/>
<rect x="148.91" y="340.89" width="5.40" height="5.40" fill="#000"/>
<rect x="151.21" y="352.51" width="5.40" height="5.40" fill="#000"/>
<rect x="155.82" y="366.37" width="5.40" height="5.40" fill="#000"/>
<rect x="169.65" y="383.80" width="5.40" height="5.40" fill="#000"/>
<rect x="192.70" y="395.42" width="5.40" height="5.40" fill="#000"/>
<rect x="238.80" y="404.36" width="5.40" height="5.40" fill="#000"/>
<circle cx="149.30" cy="326.60" r="2.90" fill="#000"/>
<circle cx="172.35" cy="385.60" r="2.90" fill="#000"/>
<circle cx="195.40" cy="397.23" r="2.90" fill="#000"/>
<circle cx="241.50" cy="404.38" r="2.90" fill="#000"/>
<text x="267.60" y="306.50" font-family='"Liberation Sans", sans-serif' font-size="17" text-anchor="start" font-weight="bold" font-style="normal" fill="#111">D</text>
<rect x="320.60" y="313.00" width="196.00" height="195.70" fill="none" stroke="#6a6a6a" stroke-width="1"/>
<line x1="314.20" y1="508.70" x2="320.60" y2="508.70" stroke="#6a6a6a" stroke-width="1"/>
<text x="308.20" y="512.10" font-family='"Liberation Sans", sans-serif' font-size="12.6" text-anchor="end" font-weight="normal" font-style="normal" fill="#111">0</text>
<line x1="314.20" y1="469.56" x2="320.60" y2="469.56" stroke="#6a6a6a" stroke-width="1"/>
<text x="308.20" y="472.96" font-family='"Liberation Sans", sans-serif' font-size="12.6" text-anchor="end" font-weight="normal" font-style="normal" fill="#111">100</text>
<line x1="314.20" y1="430.42" x2="320.60" y2="430.42" stroke="#6a6a6a" stroke-width="1"/>
<text x="308.20" y="433.82" font-family='"Liberation Sans", sans-serif' font-size="12.6" text-anchor="end" font-weight="normal" font-style="normal" fill="#111">200</text>
<line x1="314.20" y1="391.28" x2="320.60" y2="391.28" stroke="#6a6a6a" stroke-width="1"/>
<text x="308.20" y="394.68" font-family='"Liberation Sans", sans-serif' font-size="12.6" text-anchor="end" font-weight="normal" font-style="normal" fill="#111">300</text>
<line x1="314.20" y1="352.14" x2="320.60" y2="352.14" stroke="#6a6a6a" stroke-width="1"/>
<text x="308.20" y="355.54" font-family='"Liberation Sans", sans-serif' font-size="12.6" text-anchor="end" font-weight="normal" font-style="normal" fill="#111">400</text>
<line x1="314.20" y1="313.00" x2="320.60" y2="313.00" stroke="#6a6a6a" stroke-width="1"/>
<text x="308.20" y="316.40" font-family='"Liberation Sans", sans-serif' font-size="12.6" text-anchor="end" font-weight="normal" font-style="normal" fill="#111">500</text>
<line x1="320.60" y1="508.70" x2="320.60" y2="515.30" stroke="#6a6a6a" stroke-width="1"/>
<text x="320.90" y="530.80" font-family='"Liberation Sans", sans-serif' font-size="12.6" text-anchor="middle" font-weight="normal" font-style="normal" fill="#111">0</text>
<line x1="365.18" y1="508.70" x2="365.18" y2="515.30" stroke="#6a6a6a" stroke-width="1"/>
<text x="365.48" y="530.80" font-family='"Liberation Sans", sans-serif' font-size="12.6" text-anchor="middle" font-weight="normal" font-style="normal" fill="#111">50</text>
<line x1="409.76" y1="508.70" x2="409.76" y2="515.30" stroke="#6a6a6a" stroke-width="1"/>
<text x="410.06" y="530.80" font-family='"Liberation Sans", sans-serif' font-size="12.6" text-anchor="middle" font-weight="normal" font-style="normal" fill="#111">100</text>
<line x1="454.34" y1="508.70" x2="454.34" y2="515.30" stroke="#6a6a6a" stroke-width="1"/>
<text x="454.64" y="530.80" font-family='"Liberation Sans", sans-serif' font-size="12.6" text-anchor="middle" font-weight="normal" font-style="normal" fill="#111">150</text>
<line x1="498.92" y1="508.70" x2="498.92" y2="515.30" stroke="#6a6a6a" stroke-width="1"/>
<text x="499.22" y="530.80" font-family='"Liberation Sans", sans-serif' font-size="12.6" text-anchor="middle" font-weight="normal" font-style="normal" fill="#111">200</text>
<text x="367.60" y="560.80" font-family='"Liberation Serif", serif' font-size="18.3" text-anchor="start" font-weight="normal" font-style="normal" fill="#111">Factor X (nM)</text>
<text x="278.5" y="411" font-family='"Liberation Serif", serif' font-size="18" text-anchor="middle" fill="#111" transform="rotate(-90 278.5 411)">IC<tspan font-size="11" dy="3">50</tspan><tspan dy="-3"> (pM)</tspan></text>
<text x="448.20" y="496.90" font-family='"Liberation Serif", serif' font-size="12.65" text-anchor="start" font-weight="normal" font-style="normal" fill="#111">IXOLARIS</text>
<line x1="320.60" y1="498.60" x2="516.60" y2="356.00" stroke="#333" stroke-width="1"/>
<rect x="320.60" y="490.20" width="5.8" height="5.8" fill="#000"/>
<rect x="331.10" y="480.60" width="5.8" height="5.8" fill="#000"/>
<line x1="356.50" y1="465.70" x2="356.50" y2="474.30" stroke="#333" stroke-width="1"/>
<line x1="353.20" y1="465.70" x2="359.80" y2="465.70" stroke="#444" stroke-width="1"/>
<line x1="353.20" y1="474.30" x2="359.80" y2="474.30" stroke="#444" stroke-width="1"/>
<rect x="353.60" y="467.10" width="5.8" height="5.8" fill="#000"/>
<line x1="387.70" y1="440.10" x2="387.70" y2="452.50" stroke="#333" stroke-width="1"/>
<line x1="384.40" y1="440.10" x2="391.00" y2="440.10" stroke="#444" stroke-width="1"/>
<line x1="384.40" y1="452.50" x2="391.00" y2="452.50" stroke="#444" stroke-width="1"/>
<rect x="384.80" y="443.40" width="5.8" height="5.8" fill="#000"/>
<line x1="410.00" y1="444.40" x2="410.00" y2="456.00" stroke="#333" stroke-width="1"/>
<line x1="406.70" y1="444.40" x2="413.30" y2="444.40" stroke="#444" stroke-width="1"/>
<line x1="406.70" y1="456.00" x2="413.30" y2="456.00" stroke="#444" stroke-width="1"/>
<rect x="407.10" y="447.30" width="5.8" height="5.8" fill="#000"/>
<line x1="445.80" y1="420.70" x2="445.80" y2="432.30" stroke="#333" stroke-width="1"/>
<line x1="442.50" y1="420.70" x2="449.10" y2="420.70" stroke="#444" stroke-width="1"/>
<line x1="442.50" y1="432.30" x2="449.10" y2="432.30" stroke="#444" stroke-width="1"/>
<rect x="442.90" y="423.60" width="5.8" height="5.8" fill="#000"/>
<line x1="476.90" y1="379.50" x2="476.90" y2="395.10" stroke="#333" stroke-width="1"/>
<line x1="473.60" y1="379.50" x2="480.20" y2="379.50" stroke="#444" stroke-width="1"/>
<line x1="473.60" y1="395.10" x2="480.20" y2="395.10" stroke="#444" stroke-width="1"/>
<rect x="474.00" y="384.40" width="5.8" height="5.8" fill="#000"/>
<line x1="499.20" y1="342.00" x2="499.20" y2="353.80" stroke="#333" stroke-width="1"/>
<line x1="495.90" y1="342.00" x2="502.50" y2="342.00" stroke="#444" stroke-width="1"/>
<line x1="495.90" y1="353.80" x2="502.50" y2="353.80" stroke="#444" stroke-width="1"/>
<rect x="496.30" y="345.00" width="5.8" height="5.8" fill="#000"/>
<rect x="363.90" y="317.50" width="65.70" height="65.60" fill="none" stroke="#6a6a6a" stroke-width="1"/>
<line x1="357.70" y1="383.10" x2="363.90" y2="383.10" stroke="#6a6a6a" stroke-width="1"/>
<text x="354.30" y="385.70" font-family='"Liberation Sans", sans-serif' font-size="7" text-anchor="end" font-weight="bold" font-style="normal" fill="#111">0</text>
<line x1="357.70" y1="366.70" x2="363.90" y2="366.70" stroke="#6a6a6a" stroke-width="1"/>
<text x="354.30" y="369.30" font-family='"Liberation Sans", sans-serif' font-size="7" text-anchor="end" font-weight="bold" font-style="normal" fill="#111">200</text>
<line x1="357.70" y1="350.30" x2="363.90" y2="350.30" stroke="#6a6a6a" stroke-width="1"/>
<text x="354.30" y="352.90" font-family='"Liberation Sans", sans-serif' font-size="7" text-anchor="end" font-weight="bold" font-style="normal" fill="#111">400</text>
<line x1="357.70" y1="333.90" x2="363.90" y2="333.90" stroke="#6a6a6a" stroke-width="1"/>
<text x="354.30" y="336.50" font-family='"Liberation Sans", sans-serif' font-size="7" text-anchor="end" font-weight="bold" font-style="normal" fill="#111">600</text>
<line x1="357.70" y1="317.50" x2="363.90" y2="317.50" stroke="#6a6a6a" stroke-width="1"/>
<text x="354.30" y="320.10" font-family='"Liberation Sans", sans-serif' font-size="7" text-anchor="end" font-weight="bold" font-style="normal" fill="#111">800</text>
<line x1="363.90" y1="383.10" x2="363.90" y2="389.20" stroke="#6a6a6a" stroke-width="1"/>
<text x="363.90" y="398.50" font-family='"Liberation Sans", sans-serif' font-size="7" text-anchor="middle" font-weight="bold" font-style="normal" fill="#111">0</text>
<line x1="393.65" y1="383.10" x2="393.65" y2="389.20" stroke="#6a6a6a" stroke-width="1"/>
<text x="393.65" y="398.50" font-family='"Liberation Sans", sans-serif' font-size="7" text-anchor="middle" font-weight="bold" font-style="normal" fill="#111">100</text>
<line x1="423.40" y1="383.10" x2="423.40" y2="389.20" stroke="#6a6a6a" stroke-width="1"/>
<text x="423.40" y="398.50" font-family='"Liberation Sans", sans-serif' font-size="7" text-anchor="middle" font-weight="bold" font-style="normal" fill="#111">200</text>
<text x="395.00" y="413.40" font-family='"Liberation Serif", serif' font-size="10.5" text-anchor="middle" font-weight="bold" font-style="normal" fill="#111">Factor X (nM)</text>
<text x="336.6" y="349.3" font-family='"Liberation Serif", serif' font-size="11" font-weight="bold" text-anchor="middle" fill="#111" transform="rotate(-90 336.6 349.3)">IC<tspan font-size="7" dy="2">50</tspan><tspan dy="-2"> (pM)</tspan></text>
<text x="398.50" y="377.70" font-family='"Liberation Serif", serif' font-size="12" text-anchor="start" font-weight="normal" font-style="normal" fill="#111">TFPI</text>
<line x1="364.50" y1="332.20" x2="427.00" y2="332.20" stroke="#444" stroke-width="1"/>
<line x1="368.70" y1="330.80" x2="368.70" y2="335.40" stroke="#333" stroke-width="0.8"/>
<line x1="365.70" y1="330.80" x2="371.70" y2="330.80" stroke="#444" stroke-width="0.8"/>
<line x1="365.70" y1="335.40" x2="371.70" y2="335.40" stroke="#444" stroke-width="0.8"/>
<polygon points="368.70,330.60 371.20,333.10 368.70,335.60 366.20,333.10" fill="#000"/>
<line x1="376.20" y1="330.00" x2="376.20" y2="331.60" stroke="#333" stroke-width="0.8"/>
<line x1="373.20" y1="330.00" x2="379.20" y2="330.00" stroke="#444" stroke-width="0.8"/>
<line x1="373.20" y1="331.60" x2="379.20" y2="331.60" stroke="#444" stroke-width="0.8"/>
<rect x="374.00" y="328.60" width="4.40" height="4.40" fill="#000"/>
<line x1="386.20" y1="328.50" x2="386.20" y2="336.50" stroke="#333" stroke-width="0.8"/>
<line x1="383.20" y1="328.50" x2="389.20" y2="328.50" stroke="#444" stroke-width="0.8"/>
<line x1="383.20" y1="336.50" x2="389.20" y2="336.50" stroke="#444" stroke-width="0.8"/>
<polygon points="386.20,330.00 388.70,332.50 386.20,335.00 383.70,332.50" fill="#000"/>
<line x1="423.10" y1="330.30" x2="423.10" y2="333.50" stroke="#333" stroke-width="0.8"/>
<line x1="420.10" y1="330.30" x2="426.10" y2="330.30" stroke="#444" stroke-width="0.8"/>
<line x1="420.10" y1="333.50" x2="426.10" y2="333.50" stroke="#444" stroke-width="0.8"/>
<rect x="420.90" y="329.70" width="4.40" height="4.40" fill="#000"/>
</svg>
</body></html>
